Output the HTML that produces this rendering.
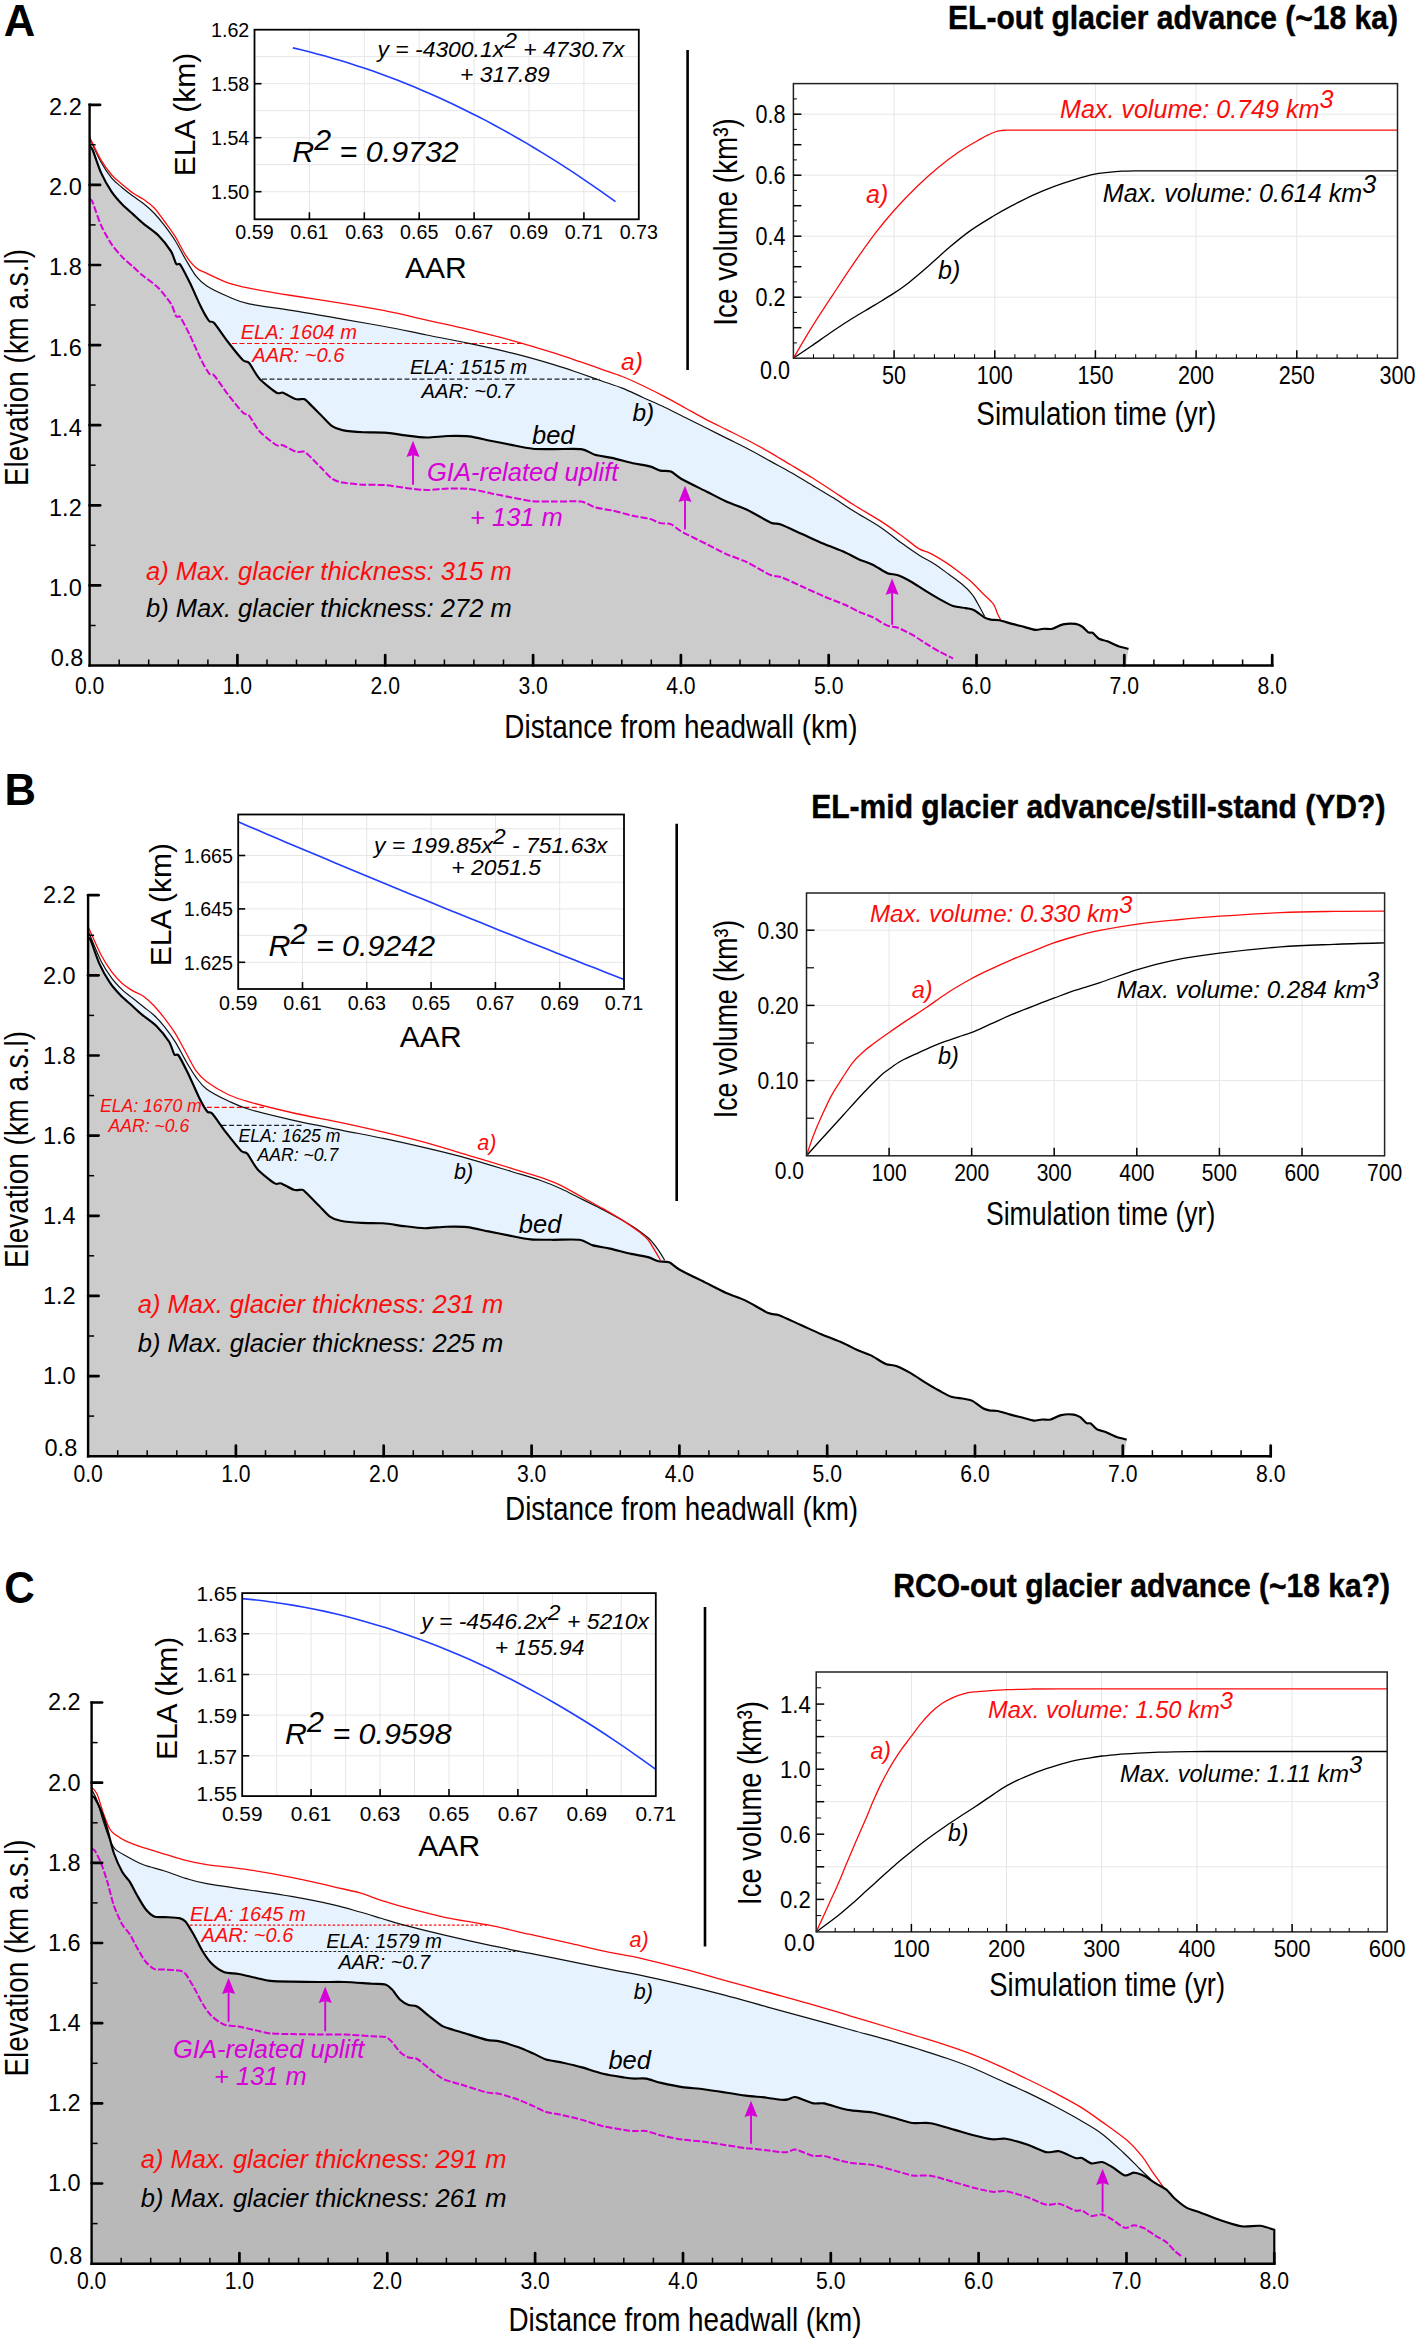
<!DOCTYPE html>
<html lang="en"><head><meta charset="utf-8"><title>Glacier advance simulations</title>
<style>html,body{margin:0;padding:0;background:#fff}svg{display:block}text{font-family:"Liberation Sans", sans-serif}</style>
</head><body>
<svg width="1419" height="2341" viewBox="0 0 1419 2341">
<rect width="1419" height="2341" fill="#fff"/>
<path d="M89.5,138 C91.4,142.1 97.4,155.6 101.1,162.3 C104.8,169 108.2,173.9 111.7,178.1 C115.2,182.3 118.8,184.7 122.3,187.7 C125.8,190.7 129.4,193.5 132.9,196.1 C136.4,198.7 139.9,200.7 143.4,203.5 C146.9,206.3 150.5,209.3 154,213 C157.5,216.7 161.1,221.1 164.6,225.7 C168.1,230.3 171.6,234.9 175.1,240.5 C178.6,246.1 182.2,253.5 185.7,259.5 C189.2,265.5 192.8,272 196.3,276.4 C199.8,280.8 201.5,282.6 206.8,286 C212.1,289.4 220.9,293.5 228,296.5 C235.1,299.5 238.5,301.6 249.1,303.9 C259.7,306.2 275.9,307.8 291.4,310.3 C306.9,312.8 326.8,316.4 342.3,319.1 C357.8,321.8 370.5,323.9 384.6,326.5 C398.7,329.1 412.7,332.2 426.8,335 C440.9,337.8 455,340.4 469.1,343.4 C483.2,346.4 497.3,349.4 511.4,352.9 C525.5,356.4 542.3,361.2 553.7,364.6 C565.1,368 572.1,370.6 580,373.3 C587.9,376 594.1,378.2 601.1,380.7 C608.1,383.2 615.2,385.3 622.3,388.1 C629.3,390.9 636.3,394.5 643.4,397.7 C650.5,400.9 657.5,403.9 664.6,407.2 C671.7,410.5 678.7,414.2 685.7,417.7 C692.7,421.2 699.8,424.8 706.8,428.3 C713.8,431.8 721,435.4 728,438.9 C735,442.4 742.1,445.8 749.1,449.5 C756.1,453.2 763.2,457.2 770.3,461.1 C777.3,465 784.3,468.6 791.4,472.7 C798.5,476.8 805.5,481.2 812.6,485.4 C819.7,489.6 826.7,493.7 833.7,498.1 C840.7,502.5 846.9,506.9 854.8,511.8 C862.7,516.7 873.2,522.4 881.1,527.7 C889,533 895.9,539 902.3,543.6 C908.6,548.2 913.9,551.9 919.2,555.2 C924.5,558.6 929.1,560.5 934,563.7 C938.9,566.9 944.2,570.9 948.8,574.2 C953.4,577.6 957.6,580.4 961.5,583.8 C965.4,587.1 969.5,591.1 972.1,594.3 C974.7,597.5 975.2,599.1 977.3,602.8 C979.4,606.5 983.5,614.2 984.7,616.5 L984.7,617.6 L974.2,610.2 L965.7,608.1 L953,606 L940.3,599.6 L927.7,592.2 L912.9,582.7 L898,575.3 L887.5,573.2 L872.7,564.7 L859.1,559.4 L844.3,552 L823.1,543.5 L802,534 L780.8,524.5 L770.3,522.4 L747,509.7 L728,502.3 L706.8,491.7 L681.5,479 L670.9,471.6 L660.3,470.6 L649.8,466.4 L632.9,463.2 L611.7,457.9 L594.8,454.7 L581.2,449.1 L553.7,449.1 L532.6,448.7 L511.4,444.9 L490.3,440.7 L469.1,436.4 L448,436 L426.8,437.5 L405.7,435.4 L384.6,432.6 L363.4,432.2 L342.3,430.1 L331.7,425.9 L321.1,415.3 L308.5,402.6 L304.1,399.1 L295.6,399.1 L283,392.7 L276.6,392.7 L259.7,379 L249.1,363.1 L242.8,360 L228,342 L214.2,323 L209,320.8 L200.5,306 L189.9,282.8 L180.4,264.8 L176.2,263.8 L170.9,251.1 L158.2,235.2 L143.4,223.6 L132.9,214.1 L122.3,204.6 L111.7,191.9 L101.1,172.9 L92.7,150 L89.5,146.2 Z" fill="#e6f2fd" stroke="none"/>
<path d="M89.5,146.2 L92.7,150 L101.1,172.9 L111.7,191.9 L122.3,204.6 L132.9,214.1 L143.4,223.6 L158.2,235.2 L170.9,251.1 L176.2,263.8 L180.4,264.8 L189.9,282.8 L200.5,306 L209,320.8 L214.2,323 L228,342 L242.8,360 L249.1,363.1 L259.7,379 L276.6,392.7 L283,392.7 L295.6,399.1 L304.1,399.1 L308.5,402.6 L321.1,415.3 L331.7,425.9 L342.3,430.1 L363.4,432.2 L384.6,432.6 L405.7,435.4 L426.8,437.5 L448,436 L469.1,436.4 L490.3,440.7 L511.4,444.9 L532.6,448.7 L553.7,449.1 L581.2,449.1 L594.8,454.7 L611.7,457.9 L632.9,463.2 L649.8,466.4 L660.3,470.6 L670.9,471.6 L681.5,479 L706.8,491.7 L728,502.3 L747,509.7 L770.3,522.4 L780.8,524.5 L802,534 L823.1,543.5 L844.3,552 L859.1,559.4 L872.7,564.7 L887.5,573.2 L898,575.3 L912.9,582.7 L927.7,592.2 L940.3,599.6 L953,606 L965.7,608.1 L974.2,610.2 L984.7,617.6 L991.1,619.7 L999.5,620.3 L1012.2,623.9 L1024.9,627.1 L1035.5,629.9 L1043.9,628.8 L1052.4,628.8 L1063,624.4 L1075.6,623.9 L1082,626.5 L1088.3,632.4 L1092.6,632.8 L1098.9,638.7 L1107.4,641.3 L1117.9,646.1 L1128.5,648.9 L1126,665.5 L89.6,665.5 Z" fill="#cccccc" stroke="none"/>
<path d="M89.5,198.7 C89.9,199.2 91.2,198.9 92.7,202.5 C94.2,206.1 98.6,219.8 101.1,225.4 C103.6,231 108.9,240.2 111.7,244.4 C114.5,248.6 119.5,254.1 122.3,257.1 C125.1,260.1 130.1,264.1 132.9,266.6 C135.7,269.1 140,273.3 143.4,276.1 C146.8,278.9 154.5,284 158.2,287.7 C161.9,291.4 168.5,299.8 170.9,303.6 C173.3,307.4 174.9,314.5 176.2,316.3 C177.5,318.1 178.6,314.8 180.4,317.3 C182.2,319.8 187.2,329.8 189.9,335.3 C192.6,340.8 198,353.4 200.5,358.5 C203,363.6 207.2,371 209,373.3 C210.8,375.6 211.7,372.7 214.2,375.5 C216.7,378.3 224.2,389.6 228,394.5 C231.8,399.4 240,409.7 242.8,412.5 C245.6,415.3 246.8,413.1 249.1,415.6 C251.4,418.1 256,427.6 259.7,431.5 C263.4,435.4 273.5,443.4 276.6,445.2 C279.7,447 280.5,444.3 283,445.2 C285.5,446.1 292.8,450.7 295.6,451.6 C298.4,452.5 302.4,451.1 304.1,451.6 C305.8,452.1 306.2,452.9 308.5,455.1 C310.8,457.3 318,464.7 321.1,467.8 C324.2,470.9 328.9,476.4 331.7,478.4 C334.5,480.4 338.1,481.8 342.3,482.6 C346.5,483.4 357.8,484.4 363.4,484.7 C369,485 379,484.7 384.6,485.1 C390.2,485.5 400.1,487.2 405.7,487.9 C411.3,488.6 421.2,489.9 426.8,490 C432.4,490.1 442.4,488.6 448,488.5 C453.6,488.4 463.5,488.3 469.1,488.9 C474.7,489.5 484.7,492.1 490.3,493.2 C495.9,494.3 505.8,496.3 511.4,497.4 C517,498.5 527,500.6 532.6,501.2 C538.2,501.8 547.2,501.5 553.7,501.6 C560.2,501.7 575.7,500.9 581.2,501.6 C586.7,502.3 590.7,506 594.8,507.2 C598.9,508.4 606.6,509.3 611.7,510.4 C616.8,511.5 627.8,514.6 632.9,515.7 C638,516.8 646.1,517.9 649.8,518.9 C653.5,519.9 657.5,522.4 660.3,523.1 C663.1,523.8 668.1,523 670.9,524.1 C673.7,525.2 676.7,528.8 681.5,531.5 C686.3,534.2 700.6,541.1 706.8,544.2 C713,547.3 722.6,552.4 728,554.8 C733.4,557.2 741.4,559.5 747,562.2 C752.6,564.9 765.8,572.9 770.3,574.9 C774.8,576.9 776.6,575.5 780.8,577 C785,578.5 796.4,584 802,586.5 C807.6,589 817.5,593.6 823.1,596 C828.7,598.4 839.5,602.4 844.3,604.5 C849.1,606.6 855.3,610.2 859.1,611.9 C862.9,613.6 868.9,615.4 872.7,617.2 C876.5,619 884.1,624.3 887.5,625.7 C890.9,627.1 894.6,626.5 898,627.8 C901.4,629.1 908.9,632.9 912.9,635.2 C916.9,637.5 924,642.4 927.7,644.7 C931.4,647 936.9,650.3 940.3,652.1 C943.7,653.9 951.3,657.6 953,658.5" fill="none" stroke="#d800d8" stroke-width="2.0" stroke-dasharray="7,2.2"/>
<line x1="232" y1="343.5" x2="522" y2="343.5" stroke="#fb0d0d" stroke-width="1.2" stroke-dasharray="5,2.5"/>
<line x1="262" y1="379.2" x2="600" y2="379.2" stroke="#222" stroke-width="1.2" stroke-dasharray="5,2.5"/>
<path d="M89.5,138 C91.4,142.1 97.4,155.6 101.1,162.3 C104.8,169 108.2,173.9 111.7,178.1 C115.2,182.3 118.8,184.7 122.3,187.7 C125.8,190.7 129.4,193.5 132.9,196.1 C136.4,198.7 139.9,200.7 143.4,203.5 C146.9,206.3 150.5,209.3 154,213 C157.5,216.7 161.1,221.1 164.6,225.7 C168.1,230.3 171.6,234.9 175.1,240.5 C178.6,246.1 182.2,253.5 185.7,259.5 C189.2,265.5 192.8,272 196.3,276.4 C199.8,280.8 201.5,282.6 206.8,286 C212.1,289.4 220.9,293.5 228,296.5 C235.1,299.5 238.5,301.6 249.1,303.9 C259.7,306.2 275.9,307.8 291.4,310.3 C306.9,312.8 326.8,316.4 342.3,319.1 C357.8,321.8 370.5,323.9 384.6,326.5 C398.7,329.1 412.7,332.2 426.8,335 C440.9,337.8 455,340.4 469.1,343.4 C483.2,346.4 497.3,349.4 511.4,352.9 C525.5,356.4 542.3,361.2 553.7,364.6 C565.1,368 572.1,370.6 580,373.3 C587.9,376 594.1,378.2 601.1,380.7 C608.1,383.2 615.2,385.3 622.3,388.1 C629.3,390.9 636.3,394.5 643.4,397.7 C650.5,400.9 657.5,403.9 664.6,407.2 C671.7,410.5 678.7,414.2 685.7,417.7 C692.7,421.2 699.8,424.8 706.8,428.3 C713.8,431.8 721,435.4 728,438.9 C735,442.4 742.1,445.8 749.1,449.5 C756.1,453.2 763.2,457.2 770.3,461.1 C777.3,465 784.3,468.6 791.4,472.7 C798.5,476.8 805.5,481.2 812.6,485.4 C819.7,489.6 826.7,493.7 833.7,498.1 C840.7,502.5 846.9,506.9 854.8,511.8 C862.7,516.7 873.2,522.4 881.1,527.7 C889,533 895.9,539 902.3,543.6 C908.6,548.2 913.9,551.9 919.2,555.2 C924.5,558.6 929.1,560.5 934,563.7 C938.9,566.9 944.2,570.9 948.8,574.2 C953.4,577.6 957.6,580.4 961.5,583.8 C965.4,587.1 969.5,591.1 972.1,594.3 C974.7,597.5 975.2,599.1 977.3,602.8 C979.4,606.5 983.5,614.2 984.7,616.5" fill="none" stroke="#111" stroke-width="1.2"/>
<path d="M89.5,137 C91.4,140.9 97.4,153.9 101.1,160.2 C104.8,166.5 108.2,170.9 111.7,175 C115.2,179.1 118.8,181.5 122.3,184.5 C125.8,187.5 129.4,190.5 132.9,193 C136.4,195.5 139.9,196.9 143.4,199.3 C146.9,201.8 150.5,204 154,207.7 C157.5,211.4 161.1,216.7 164.6,221.5 C168.1,226.3 171.6,230.7 175.1,236.3 C178.6,241.9 182.2,250 185.7,255.3 C189.2,260.6 192.8,265 196.3,268 C199.8,271 201.5,270.8 206.8,273.3 C212.1,275.8 220.9,280.3 228,282.8 C235.1,285.3 238.5,286 249.1,288.1 C259.7,290.2 275.9,293 291.4,295.5 C306.9,298 326.8,300.8 342.3,303.3 C357.8,305.8 370.5,307.9 384.6,310.7 C398.7,313.5 412.7,317 426.8,320.2 C440.9,323.4 455,326.3 469.1,329.7 C483.2,333.1 497.3,336.4 511.4,340.3 C525.5,344.2 542.3,349.3 553.7,352.9 C565.1,356.5 572.1,359 580,361.7 C587.9,364.4 594.1,366.6 601.1,369.1 C608.1,371.6 615.2,373.7 622.3,376.5 C629.3,379.3 636.3,382.6 643.4,386 C650.5,389.4 657.5,392.9 664.6,396.6 C671.7,400.3 678.7,404.3 685.7,408.2 C692.7,412.1 699.8,416.2 706.8,419.9 C713.8,423.6 721,426.9 728,430.4 C735,433.9 742.1,437.3 749.1,441 C756.1,444.7 763.2,448.6 770.3,452.6 C777.3,456.7 784.3,461.1 791.4,465.3 C798.5,469.5 805.5,473.6 812.6,478 C819.7,482.4 826.7,487.1 833.7,491.7 C840.7,496.3 846.9,500.6 854.8,505.5 C862.7,510.4 873.2,516.3 881.1,521.4 C889,526.5 895.9,531.6 902.3,536.2 C908.6,540.8 914.6,546.1 919.2,548.9 C923.8,551.7 925.6,551 929.8,553.1 C934,555.2 940.4,559 944.6,561.6 C948.8,564.2 950.9,565.8 955.1,569 C959.3,572.2 965.3,576.6 969.9,580.6 C974.5,584.6 978.7,589.4 982.6,593.3 C986.5,597.2 990.7,600.4 993.2,603.8 C995.7,607.1 996.2,610.8 997.4,613.4 C998.6,616 1000.1,618.7 1000.6,619.7" fill="none" stroke="#fb0d0d" stroke-width="1.3"/>
<path d="M89.5,146.2 C89.9,146.7 91.2,146.4 92.7,150 C94.2,153.6 98.6,167.3 101.1,172.9 C103.6,178.5 108.9,187.7 111.7,191.9 C114.5,196.1 119.5,201.6 122.3,204.6 C125.1,207.6 130.1,211.6 132.9,214.1 C135.7,216.6 140,220.8 143.4,223.6 C146.8,226.4 154.5,231.5 158.2,235.2 C161.9,238.9 168.5,247.3 170.9,251.1 C173.3,254.9 174.9,262 176.2,263.8 C177.5,265.6 178.6,262.3 180.4,264.8 C182.2,267.3 187.2,277.3 189.9,282.8 C192.6,288.3 198,300.9 200.5,306 C203,311.1 207.2,318.5 209,320.8 C210.8,323.1 211.7,320.2 214.2,323 C216.7,325.8 224.2,337.1 228,342 C231.8,346.9 240,357.2 242.8,360 C245.6,362.8 246.8,360.6 249.1,363.1 C251.4,365.6 256,375.1 259.7,379 C263.4,382.9 273.5,390.9 276.6,392.7 C279.7,394.5 280.5,391.8 283,392.7 C285.5,393.6 292.8,398.2 295.6,399.1 C298.4,400 302.4,398.6 304.1,399.1 C305.8,399.6 306.2,400.4 308.5,402.6 C310.8,404.8 318,412.2 321.1,415.3 C324.2,418.4 328.9,423.9 331.7,425.9 C334.5,427.9 338.1,429.3 342.3,430.1 C346.5,430.9 357.8,431.9 363.4,432.2 C369,432.5 379,432.2 384.6,432.6 C390.2,433 400.1,434.7 405.7,435.4 C411.3,436.1 421.2,437.4 426.8,437.5 C432.4,437.6 442.4,436.1 448,436 C453.6,435.9 463.5,435.8 469.1,436.4 C474.7,437 484.7,439.6 490.3,440.7 C495.9,441.8 505.8,443.8 511.4,444.9 C517,446 527,448.1 532.6,448.7 C538.2,449.3 547.2,449 553.7,449.1 C560.2,449.2 575.7,448.4 581.2,449.1 C586.7,449.8 590.7,453.5 594.8,454.7 C598.9,455.9 606.6,456.8 611.7,457.9 C616.8,459 627.8,462.1 632.9,463.2 C638,464.3 646.1,465.4 649.8,466.4 C653.5,467.4 657.5,469.9 660.3,470.6 C663.1,471.3 668.1,470.5 670.9,471.6 C673.7,472.7 676.7,476.3 681.5,479 C686.3,481.7 700.6,488.6 706.8,491.7 C713,494.8 722.6,499.9 728,502.3 C733.4,504.7 741.4,507 747,509.7 C752.6,512.4 765.8,520.4 770.3,522.4 C774.8,524.4 776.6,523 780.8,524.5 C785,526 796.4,531.5 802,534 C807.6,536.5 817.5,541.1 823.1,543.5 C828.7,545.9 839.5,549.9 844.3,552 C849.1,554.1 855.3,557.7 859.1,559.4 C862.9,561.1 868.9,562.9 872.7,564.7 C876.5,566.5 884.1,571.8 887.5,573.2 C890.9,574.6 894.6,574 898,575.3 C901.4,576.6 908.9,580.4 912.9,582.7 C916.9,585 924,589.9 927.7,592.2 C931.4,594.5 936.9,597.8 940.3,599.6 C943.7,601.4 949.6,604.9 953,606 C956.4,607.1 962.9,607.5 965.7,608.1 C968.5,608.7 971.7,608.9 974.2,610.2 C976.7,611.5 982.4,616.3 984.7,617.6 C987,618.9 989.1,619.3 991.1,619.7 C993.1,620.1 996.7,619.7 999.5,620.3 C1002.3,620.9 1008.8,623 1012.2,623.9 C1015.6,624.8 1021.8,626.3 1024.9,627.1 C1028,627.9 1033,629.7 1035.5,629.9 C1038,630.1 1041.6,628.9 1043.9,628.8 C1046.2,628.7 1049.9,629.4 1052.4,628.8 C1054.9,628.2 1059.9,625.1 1063,624.4 C1066.1,623.7 1073.1,623.6 1075.6,623.9 C1078.1,624.2 1080.3,625.4 1082,626.5 C1083.7,627.6 1086.9,631.6 1088.3,632.4 C1089.7,633.2 1091.2,632 1092.6,632.8 C1094,633.6 1096.9,637.6 1098.9,638.7 C1100.9,639.8 1104.9,640.3 1107.4,641.3 C1109.9,642.3 1115.1,645.1 1117.9,646.1 C1120.7,647.1 1127.1,648.5 1128.5,648.9" fill="none" stroke="#000" stroke-width="2.15" stroke-linejoin="round"/>
<line x1="89.6" y1="103.5" x2="89.6" y2="666.7" stroke="#000" stroke-width="2.4"/>
<line x1="88.4" y1="665.5" x2="1273.5" y2="665.5" stroke="#000" stroke-width="2.4"/>
<line x1="89.6" y1="625.5" x2="95.6" y2="625.5" stroke="#000" stroke-width="1.5"/>
<line x1="89.6" y1="585.4" x2="100.1" y2="585.4" stroke="#000" stroke-width="2.7" stroke-linecap="round"/>
<line x1="89.6" y1="545.3" x2="95.6" y2="545.3" stroke="#000" stroke-width="1.5"/>
<line x1="89.6" y1="505.3" x2="100.1" y2="505.3" stroke="#000" stroke-width="2.7" stroke-linecap="round"/>
<line x1="89.6" y1="465.2" x2="95.6" y2="465.2" stroke="#000" stroke-width="1.5"/>
<line x1="89.6" y1="425.2" x2="100.1" y2="425.2" stroke="#000" stroke-width="2.7" stroke-linecap="round"/>
<line x1="89.6" y1="385.1" x2="95.6" y2="385.1" stroke="#000" stroke-width="1.5"/>
<line x1="89.6" y1="345.1" x2="100.1" y2="345.1" stroke="#000" stroke-width="2.7" stroke-linecap="round"/>
<line x1="89.6" y1="305" x2="95.6" y2="305" stroke="#000" stroke-width="1.5"/>
<line x1="89.6" y1="265" x2="100.1" y2="265" stroke="#000" stroke-width="2.7" stroke-linecap="round"/>
<line x1="89.6" y1="224.9" x2="95.6" y2="224.9" stroke="#000" stroke-width="1.5"/>
<line x1="89.6" y1="184.9" x2="100.1" y2="184.9" stroke="#000" stroke-width="2.7" stroke-linecap="round"/>
<line x1="89.6" y1="144.8" x2="95.6" y2="144.8" stroke="#000" stroke-width="1.5"/>
<line x1="89.6" y1="104.8" x2="100.1" y2="104.8" stroke="#000" stroke-width="2.7" stroke-linecap="round"/>
<line x1="119.2" y1="665.5" x2="119.2" y2="659.5" stroke="#000" stroke-width="1.5"/>
<line x1="148.7" y1="665.5" x2="148.7" y2="659.5" stroke="#000" stroke-width="1.5"/>
<line x1="178.3" y1="665.5" x2="178.3" y2="659.5" stroke="#000" stroke-width="1.5"/>
<line x1="207.9" y1="665.5" x2="207.9" y2="659.5" stroke="#000" stroke-width="1.5"/>
<line x1="237.4" y1="665.5" x2="237.4" y2="655" stroke="#000" stroke-width="2.7" stroke-linecap="round"/>
<line x1="267" y1="665.5" x2="267" y2="659.5" stroke="#000" stroke-width="1.5"/>
<line x1="296.5" y1="665.5" x2="296.5" y2="659.5" stroke="#000" stroke-width="1.5"/>
<line x1="326.1" y1="665.5" x2="326.1" y2="659.5" stroke="#000" stroke-width="1.5"/>
<line x1="355.7" y1="665.5" x2="355.7" y2="659.5" stroke="#000" stroke-width="1.5"/>
<line x1="385.2" y1="665.5" x2="385.2" y2="655" stroke="#000" stroke-width="2.7" stroke-linecap="round"/>
<line x1="414.8" y1="665.5" x2="414.8" y2="659.5" stroke="#000" stroke-width="1.5"/>
<line x1="444.4" y1="665.5" x2="444.4" y2="659.5" stroke="#000" stroke-width="1.5"/>
<line x1="473.9" y1="665.5" x2="473.9" y2="659.5" stroke="#000" stroke-width="1.5"/>
<line x1="503.5" y1="665.5" x2="503.5" y2="659.5" stroke="#000" stroke-width="1.5"/>
<line x1="533.1" y1="665.5" x2="533.1" y2="655" stroke="#000" stroke-width="2.7" stroke-linecap="round"/>
<line x1="562.6" y1="665.5" x2="562.6" y2="659.5" stroke="#000" stroke-width="1.5"/>
<line x1="592.2" y1="665.5" x2="592.2" y2="659.5" stroke="#000" stroke-width="1.5"/>
<line x1="621.8" y1="665.5" x2="621.8" y2="659.5" stroke="#000" stroke-width="1.5"/>
<line x1="651.3" y1="665.5" x2="651.3" y2="659.5" stroke="#000" stroke-width="1.5"/>
<line x1="680.9" y1="665.5" x2="680.9" y2="655" stroke="#000" stroke-width="2.7" stroke-linecap="round"/>
<line x1="710.4" y1="665.5" x2="710.4" y2="659.5" stroke="#000" stroke-width="1.5"/>
<line x1="740" y1="665.5" x2="740" y2="659.5" stroke="#000" stroke-width="1.5"/>
<line x1="769.6" y1="665.5" x2="769.6" y2="659.5" stroke="#000" stroke-width="1.5"/>
<line x1="799.1" y1="665.5" x2="799.1" y2="659.5" stroke="#000" stroke-width="1.5"/>
<line x1="828.7" y1="665.5" x2="828.7" y2="655" stroke="#000" stroke-width="2.7" stroke-linecap="round"/>
<line x1="858.3" y1="665.5" x2="858.3" y2="659.5" stroke="#000" stroke-width="1.5"/>
<line x1="887.8" y1="665.5" x2="887.8" y2="659.5" stroke="#000" stroke-width="1.5"/>
<line x1="917.4" y1="665.5" x2="917.4" y2="659.5" stroke="#000" stroke-width="1.5"/>
<line x1="947" y1="665.5" x2="947" y2="659.5" stroke="#000" stroke-width="1.5"/>
<line x1="976.5" y1="665.5" x2="976.5" y2="655" stroke="#000" stroke-width="2.7" stroke-linecap="round"/>
<line x1="1006.1" y1="665.5" x2="1006.1" y2="659.5" stroke="#000" stroke-width="1.5"/>
<line x1="1035.6" y1="665.5" x2="1035.6" y2="659.5" stroke="#000" stroke-width="1.5"/>
<line x1="1065.2" y1="665.5" x2="1065.2" y2="659.5" stroke="#000" stroke-width="1.5"/>
<line x1="1094.8" y1="665.5" x2="1094.8" y2="659.5" stroke="#000" stroke-width="1.5"/>
<line x1="1124.3" y1="665.5" x2="1124.3" y2="655" stroke="#000" stroke-width="2.7" stroke-linecap="round"/>
<line x1="1153.9" y1="665.5" x2="1153.9" y2="659.5" stroke="#000" stroke-width="1.5"/>
<line x1="1183.5" y1="665.5" x2="1183.5" y2="659.5" stroke="#000" stroke-width="1.5"/>
<line x1="1213" y1="665.5" x2="1213" y2="659.5" stroke="#000" stroke-width="1.5"/>
<line x1="1242.6" y1="665.5" x2="1242.6" y2="659.5" stroke="#000" stroke-width="1.5"/>
<line x1="1272.2" y1="665.5" x2="1272.2" y2="655" stroke="#000" stroke-width="2.7" stroke-linecap="round"/>
<text transform="translate(83.3,665.7)" text-anchor="end" fill="#000" style="font-size:23.5px;">0.8</text>
<text transform="translate(81.7,595.9)" text-anchor="end" fill="#000" style="font-size:23.5px;">1.0</text>
<text transform="translate(81.7,515.8)" text-anchor="end" fill="#000" style="font-size:23.5px;">1.2</text>
<text transform="translate(81.7,435.6)" text-anchor="end" fill="#000" style="font-size:23.5px;">1.4</text>
<text transform="translate(81.7,355.5)" text-anchor="end" fill="#000" style="font-size:23.5px;">1.6</text>
<text transform="translate(81.7,275.4)" text-anchor="end" fill="#000" style="font-size:23.5px;">1.8</text>
<text transform="translate(81.7,195.3)" text-anchor="end" fill="#000" style="font-size:23.5px;">2.0</text>
<text transform="translate(81.7,115.2)" text-anchor="end" fill="#000" style="font-size:23.5px;">2.2</text>
<text transform="translate(89.6,694.1) scale(0.900,1)" text-anchor="middle" fill="#000" style="font-size:23.5px;">0.0</text>
<text transform="translate(237.4,694.1) scale(0.900,1)" text-anchor="middle" fill="#000" style="font-size:23.5px;">1.0</text>
<text transform="translate(385.2,694.1) scale(0.900,1)" text-anchor="middle" fill="#000" style="font-size:23.5px;">2.0</text>
<text transform="translate(533.1,694.1) scale(0.900,1)" text-anchor="middle" fill="#000" style="font-size:23.5px;">3.0</text>
<text transform="translate(680.9,694.1) scale(0.900,1)" text-anchor="middle" fill="#000" style="font-size:23.5px;">4.0</text>
<text transform="translate(828.7,694.1) scale(0.900,1)" text-anchor="middle" fill="#000" style="font-size:23.5px;">5.0</text>
<text transform="translate(976.5,694.1) scale(0.900,1)" text-anchor="middle" fill="#000" style="font-size:23.5px;">6.0</text>
<text transform="translate(1124.3,694.1) scale(0.900,1)" text-anchor="middle" fill="#000" style="font-size:23.5px;">7.0</text>
<text transform="translate(1272.2,694.1) scale(0.900,1)" text-anchor="middle" fill="#000" style="font-size:23.5px;">8.0</text>
<text transform="translate(680.9,738.1) scale(0.820,1)" text-anchor="middle" fill="#000" style="font-size:34px;">Distance from headwall (km)</text>
<text transform="translate(27.8,367.5) rotate(-90) scale(0.820,1)" text-anchor="middle" fill="#000" style="font-size:34px;">Elevation (km a.s.l)</text>
<text transform="translate(240.7,338.6)" text-anchor="start" fill="#fb0d0d" style="font-size:20.1px;font-style:italic;">ELA: 1604 m</text>
<text transform="translate(252.3,362)" text-anchor="start" fill="#fb0d0d" style="font-size:20.1px;font-style:italic;">AAR: ~0.6</text>
<text transform="translate(410,374)" text-anchor="start" fill="#000" style="font-size:20.3px;font-style:italic;">ELA: 1515 m</text>
<text transform="translate(421.6,398.4)" text-anchor="start" fill="#000" style="font-size:20.2px;font-style:italic;">AAR: ~0.7</text>
<text transform="translate(621,370)" text-anchor="start" fill="#fb0d0d" style="font-size:24.5px;font-style:italic;">a)</text>
<text transform="translate(632.4,421)" text-anchor="start" fill="#000" style="font-size:24.5px;font-style:italic;">b)</text>
<text transform="translate(532,443.5)" text-anchor="start" fill="#000" style="font-size:25.5px;font-style:italic;">bed</text>
<text transform="translate(427,480.8)" text-anchor="start" fill="#d800d8" style="font-size:25.5px;font-style:italic;">GIA-related uplift</text>
<text transform="translate(470,526.3)" text-anchor="start" fill="#d800d8" style="font-size:25.5px;font-style:italic;">+ 131 m</text>
<text transform="translate(146,580)" text-anchor="start" fill="#fb0d0d" style="font-size:25.5px;font-style:italic;">a) Max. glacier thickness: 315 m</text>
<text transform="translate(146,617)" text-anchor="start" fill="#000" style="font-size:25.5px;font-style:italic;">b) Max. glacier thickness: 272 m</text>
<line x1="413" y1="484" x2="413" y2="453.7" stroke="#d800d8" stroke-width="1.9" stroke-linecap="round"/>
<path d="M413,440.7 L406.5,457 L413,455.1 L419.5,457 Z" fill="#d800d8"/>
<line x1="685" y1="528.7" x2="685" y2="498.8" stroke="#d800d8" stroke-width="1.9" stroke-linecap="round"/>
<path d="M685,485.8 L678.5,502.1 L685,500.2 L691.5,502.1 Z" fill="#d800d8"/>
<line x1="892.1" y1="624" x2="892.1" y2="591.5" stroke="#d800d8" stroke-width="1.9" stroke-linecap="round"/>
<path d="M892.1,578.5 L885.6,594.8 L892.1,592.9 L898.6,594.8 Z" fill="#d800d8"/>
<text transform="translate(3.8,36) scale(0.990,1)" text-anchor="start" fill="#000" style="font-size:44px;font-weight:bold;">A</text>
<text transform="translate(1398,28.5) scale(0.889,1)" text-anchor="end" fill="#000" style="font-size:33.8px;font-weight:bold;" stroke="#000" stroke-width="0.45">EL-out glacier advance (~18 ka)</text>
<line x1="687.6" y1="50" x2="687.6" y2="370" stroke="#000" stroke-width="2.6"/>
<rect x="254.5" y="29.7" width="384.3" height="189.6" fill="#fff"/>
<line x1="309.4" y1="29.7" x2="309.4" y2="219.3" stroke="#e6e6e6" stroke-width="1"/>
<line x1="364.3" y1="29.7" x2="364.3" y2="219.3" stroke="#e6e6e6" stroke-width="1"/>
<line x1="419.2" y1="29.7" x2="419.2" y2="219.3" stroke="#e6e6e6" stroke-width="1"/>
<line x1="474.1" y1="29.7" x2="474.1" y2="219.3" stroke="#e6e6e6" stroke-width="1"/>
<line x1="529" y1="29.7" x2="529" y2="219.3" stroke="#e6e6e6" stroke-width="1"/>
<line x1="583.9" y1="29.7" x2="583.9" y2="219.3" stroke="#e6e6e6" stroke-width="1"/>
<line x1="254.5" y1="56.7" x2="638.8" y2="56.7" stroke="#e6e6e6" stroke-width="1"/>
<line x1="254.5" y1="83.7" x2="638.8" y2="83.7" stroke="#e6e6e6" stroke-width="1"/>
<line x1="254.5" y1="110.7" x2="638.8" y2="110.7" stroke="#e6e6e6" stroke-width="1"/>
<line x1="254.5" y1="137.7" x2="638.8" y2="137.7" stroke="#e6e6e6" stroke-width="1"/>
<line x1="254.5" y1="164.7" x2="638.8" y2="164.7" stroke="#e6e6e6" stroke-width="1"/>
<line x1="254.5" y1="191.7" x2="638.8" y2="191.7" stroke="#e6e6e6" stroke-width="1"/>
<path d="M292.9,47.9 L301,49.8 L309.1,51.8 L317.1,53.9 L325.2,56.1 L333.2,58.4 L341.3,60.8 L349.4,63.3 L357.4,65.9 L365.5,68.6 L373.6,71.3 L381.6,74.2 L389.7,77.2 L397.8,80.3 L405.8,83.5 L413.9,86.8 L421.9,90.2 L430,93.7 L438.1,97.3 L446.1,101 L454.2,104.8 L462.3,108.7 L470.3,112.7 L478.4,116.7 L486.5,120.9 L494.5,125.2 L502.6,129.6 L510.6,134.1 L518.7,138.7 L526.8,143.4 L534.8,148.2 L542.9,153.1 L551,158.1 L559,163.2 L567.1,168.4 L575.2,173.7 L583.2,179.1 L591.3,184.6 L599.3,190.2 L607.4,195.9 L615.5,201.7" fill="none" stroke="#1f3cff" stroke-width="1.6"/>
<rect x="254.5" y="29.7" width="384.3" height="189.6" fill="none" stroke="#000" stroke-width="1.8"/>
<line x1="309.4" y1="219.3" x2="309.4" y2="212.3" stroke="#000" stroke-width="1.6"/>
<line x1="364.3" y1="219.3" x2="364.3" y2="212.3" stroke="#000" stroke-width="1.6"/>
<line x1="419.2" y1="219.3" x2="419.2" y2="212.3" stroke="#000" stroke-width="1.6"/>
<line x1="474.1" y1="219.3" x2="474.1" y2="212.3" stroke="#000" stroke-width="1.6"/>
<line x1="529" y1="219.3" x2="529" y2="212.3" stroke="#000" stroke-width="1.6"/>
<line x1="583.9" y1="219.3" x2="583.9" y2="212.3" stroke="#000" stroke-width="1.6"/>
<line x1="254.5" y1="83.7" x2="261.5" y2="83.7" stroke="#000" stroke-width="1.6"/>
<line x1="254.5" y1="137.7" x2="261.5" y2="137.7" stroke="#000" stroke-width="1.6"/>
<line x1="254.5" y1="191.7" x2="261.5" y2="191.7" stroke="#000" stroke-width="1.6"/>
<text transform="translate(254.5,239.4) scale(1.020,1)" text-anchor="middle" fill="#000" style="font-size:19.3px;">0.59</text>
<text transform="translate(309.4,239.4) scale(1.020,1)" text-anchor="middle" fill="#000" style="font-size:19.3px;">0.61</text>
<text transform="translate(364.3,239.4) scale(1.020,1)" text-anchor="middle" fill="#000" style="font-size:19.3px;">0.63</text>
<text transform="translate(419.2,239.4) scale(1.020,1)" text-anchor="middle" fill="#000" style="font-size:19.3px;">0.65</text>
<text transform="translate(474.1,239.4) scale(1.020,1)" text-anchor="middle" fill="#000" style="font-size:19.3px;">0.67</text>
<text transform="translate(529,239.4) scale(1.020,1)" text-anchor="middle" fill="#000" style="font-size:19.3px;">0.69</text>
<text transform="translate(583.9,239.4) scale(1.020,1)" text-anchor="middle" fill="#000" style="font-size:19.3px;">0.71</text>
<text transform="translate(638.8,239.4) scale(1.020,1)" text-anchor="middle" fill="#000" style="font-size:19.3px;">0.73</text>
<text transform="translate(249.3,37) scale(1.020,1)" text-anchor="end" fill="#000" style="font-size:19.3px;">1.62</text>
<text transform="translate(249.3,91) scale(1.020,1)" text-anchor="end" fill="#000" style="font-size:19.3px;">1.58</text>
<text transform="translate(249.3,145) scale(1.020,1)" text-anchor="end" fill="#000" style="font-size:19.3px;">1.54</text>
<text transform="translate(249.3,199) scale(1.020,1)" text-anchor="end" fill="#000" style="font-size:19.3px;">1.50</text>
<text transform="translate(195,114.5) rotate(-90)" text-anchor="middle" fill="#000" style="font-size:30px;">ELA (km)</text>
<text transform="translate(435.8,278)" text-anchor="middle" fill="#000" style="font-size:30px;">AAR</text>
<text transform="translate(292.3,162)" text-anchor="start" fill="#000" style="font-size:30.4px;font-style:italic;">R<tspan dy="-0.39em">2</tspan><tspan dy="0.39em"> = 0.9732</tspan></text>
<text transform="translate(377.5,56.5)" text-anchor="start" fill="#000" style="font-size:22.9px;font-style:italic;">y = -4300.1x<tspan dy="-0.39em">2</tspan><tspan dy="0.39em"> + 4730.7x</tspan></text>
<text transform="translate(460,82.3)" text-anchor="start" fill="#000" style="font-size:22.9px;font-style:italic;">+ 317.89</text>
<line x1="894.1" y1="83.6" x2="894.1" y2="358.2" stroke="#e6e6e6" stroke-width="1"/>
<line x1="994.8" y1="83.6" x2="994.8" y2="358.2" stroke="#e6e6e6" stroke-width="1"/>
<line x1="1095.4" y1="83.6" x2="1095.4" y2="358.2" stroke="#e6e6e6" stroke-width="1"/>
<line x1="1196.1" y1="83.6" x2="1196.1" y2="358.2" stroke="#e6e6e6" stroke-width="1"/>
<line x1="1296.8" y1="83.6" x2="1296.8" y2="358.2" stroke="#e6e6e6" stroke-width="1"/>
<line x1="793.4" y1="297.2" x2="1397.5" y2="297.2" stroke="#e6e6e6" stroke-width="1"/>
<line x1="793.4" y1="236.2" x2="1397.5" y2="236.2" stroke="#e6e6e6" stroke-width="1"/>
<line x1="793.4" y1="175.2" x2="1397.5" y2="175.2" stroke="#e6e6e6" stroke-width="1"/>
<line x1="793.4" y1="114.2" x2="1397.5" y2="114.2" stroke="#e6e6e6" stroke-width="1"/>
<path d="M793.4,358.2 C796.4,356.2 804.6,350.8 811.1,346.3 C817.6,341.9 825.2,336.2 832.3,331.5 C839.3,326.8 846.3,322.2 853.4,317.8 C860.5,313.4 867.9,309.2 874.6,305.1 C881.3,301 888,297.1 893.6,293.4 C899.2,289.7 902.8,287.3 908.4,282.9 C914,278.5 920.7,272.8 927.4,267 C934.1,261.2 941.5,254 948.6,248 C955.7,242 962.3,236.4 969.7,231.1 C977.1,225.8 986,220.5 993,216.3 C1000,212.1 1005.3,209.2 1012,205.7 C1018.7,202.2 1026,198.3 1033.1,195.1 C1040.1,191.9 1047.2,188.9 1054.3,186.3 C1061.3,183.7 1068.9,181.3 1075.4,179.3 C1081.9,177.3 1088,175.5 1093.4,174.3 C1098.8,173.1 1103.2,172.8 1108,172.3 C1112.8,171.8 1116.7,171.4 1122,171.2 C1127.3,170.9 1137,170.9 1140,170.8 L1397.5,170.8" fill="none" stroke="#000" stroke-width="1.3"/>
<path d="M793.4,358.2 C796.4,353.2 804.6,338.7 811.1,328.3 C817.6,317.9 825.2,306.4 832.3,295.6 C839.3,284.9 846.3,274 853.4,263.8 C860.5,253.6 867.9,243 874.6,234.2 C881.3,225.4 886.6,218.9 893.6,211 C900.6,203.1 909.4,193.9 916.8,186.7 C924.2,179.5 931,173.5 938,167.7 C945,161.9 952.1,156.6 959.1,151.8 C966.1,147 975.3,142 980.3,139.1 C985.3,136.2 986.5,135.7 989,134.5 C991.5,133.3 993.1,132.7 995,132 C996.9,131.3 998.7,130.9 1000.5,130.6 C1002.3,130.3 1004.1,130.3 1006,130.2 C1007.9,130.1 1011,130.1 1012,130.1 L1397.5,130.1" fill="none" stroke="#fb0d0d" stroke-width="1.3"/>
<rect x="793.4" y="83.6" width="604.1" height="274.6" fill="none" stroke="#222" stroke-width="1.5"/>
<line x1="894.1" y1="358.2" x2="894.1" y2="350.2" stroke="#000" stroke-width="1.5"/>
<line x1="994.8" y1="358.2" x2="994.8" y2="350.2" stroke="#000" stroke-width="1.5"/>
<line x1="1095.4" y1="358.2" x2="1095.4" y2="350.2" stroke="#000" stroke-width="1.5"/>
<line x1="1196.1" y1="358.2" x2="1196.1" y2="350.2" stroke="#000" stroke-width="1.5"/>
<line x1="1296.8" y1="358.2" x2="1296.8" y2="350.2" stroke="#000" stroke-width="1.5"/>
<line x1="813.5" y1="358.2" x2="813.5" y2="354.2" stroke="#000" stroke-width="1"/>
<line x1="833.7" y1="358.2" x2="833.7" y2="354.2" stroke="#000" stroke-width="1"/>
<line x1="853.8" y1="358.2" x2="853.8" y2="354.2" stroke="#000" stroke-width="1"/>
<line x1="873.9" y1="358.2" x2="873.9" y2="354.2" stroke="#000" stroke-width="1"/>
<line x1="914.2" y1="358.2" x2="914.2" y2="354.2" stroke="#000" stroke-width="1"/>
<line x1="934.4" y1="358.2" x2="934.4" y2="354.2" stroke="#000" stroke-width="1"/>
<line x1="954.5" y1="358.2" x2="954.5" y2="354.2" stroke="#000" stroke-width="1"/>
<line x1="974.6" y1="358.2" x2="974.6" y2="354.2" stroke="#000" stroke-width="1"/>
<line x1="1014.9" y1="358.2" x2="1014.9" y2="354.2" stroke="#000" stroke-width="1"/>
<line x1="1035" y1="358.2" x2="1035" y2="354.2" stroke="#000" stroke-width="1"/>
<line x1="1055.2" y1="358.2" x2="1055.2" y2="354.2" stroke="#000" stroke-width="1"/>
<line x1="1075.3" y1="358.2" x2="1075.3" y2="354.2" stroke="#000" stroke-width="1"/>
<line x1="1115.6" y1="358.2" x2="1115.6" y2="354.2" stroke="#000" stroke-width="1"/>
<line x1="1135.7" y1="358.2" x2="1135.7" y2="354.2" stroke="#000" stroke-width="1"/>
<line x1="1155.8" y1="358.2" x2="1155.8" y2="354.2" stroke="#000" stroke-width="1"/>
<line x1="1176" y1="358.2" x2="1176" y2="354.2" stroke="#000" stroke-width="1"/>
<line x1="1216.3" y1="358.2" x2="1216.3" y2="354.2" stroke="#000" stroke-width="1"/>
<line x1="1236.4" y1="358.2" x2="1236.4" y2="354.2" stroke="#000" stroke-width="1"/>
<line x1="1256.5" y1="358.2" x2="1256.5" y2="354.2" stroke="#000" stroke-width="1"/>
<line x1="1276.7" y1="358.2" x2="1276.7" y2="354.2" stroke="#000" stroke-width="1"/>
<line x1="1316.9" y1="358.2" x2="1316.9" y2="354.2" stroke="#000" stroke-width="1"/>
<line x1="1337.1" y1="358.2" x2="1337.1" y2="354.2" stroke="#000" stroke-width="1"/>
<line x1="1357.2" y1="358.2" x2="1357.2" y2="354.2" stroke="#000" stroke-width="1"/>
<line x1="1377.3" y1="358.2" x2="1377.3" y2="354.2" stroke="#000" stroke-width="1"/>
<line x1="793.4" y1="327.7" x2="801.4" y2="327.7" stroke="#000" stroke-width="1.5"/>
<line x1="793.4" y1="297.2" x2="801.4" y2="297.2" stroke="#000" stroke-width="1.5"/>
<line x1="793.4" y1="266.7" x2="801.4" y2="266.7" stroke="#000" stroke-width="1.5"/>
<line x1="793.4" y1="236.2" x2="801.4" y2="236.2" stroke="#000" stroke-width="1.5"/>
<line x1="793.4" y1="205.7" x2="801.4" y2="205.7" stroke="#000" stroke-width="1.5"/>
<line x1="793.4" y1="175.2" x2="801.4" y2="175.2" stroke="#000" stroke-width="1.5"/>
<line x1="793.4" y1="144.7" x2="801.4" y2="144.7" stroke="#000" stroke-width="1.5"/>
<line x1="793.4" y1="114.2" x2="801.4" y2="114.2" stroke="#000" stroke-width="1.5"/>
<line x1="793.4" y1="342.9" x2="796.9" y2="342.9" stroke="#000" stroke-width="1"/>
<line x1="793.4" y1="312.4" x2="796.9" y2="312.4" stroke="#000" stroke-width="1"/>
<line x1="793.4" y1="281.9" x2="796.9" y2="281.9" stroke="#000" stroke-width="1"/>
<line x1="793.4" y1="251.4" x2="796.9" y2="251.4" stroke="#000" stroke-width="1"/>
<line x1="793.4" y1="220.9" x2="796.9" y2="220.9" stroke="#000" stroke-width="1"/>
<line x1="793.4" y1="190.4" x2="796.9" y2="190.4" stroke="#000" stroke-width="1"/>
<line x1="793.4" y1="159.9" x2="796.9" y2="159.9" stroke="#000" stroke-width="1"/>
<line x1="793.4" y1="129.4" x2="796.9" y2="129.4" stroke="#000" stroke-width="1"/>
<line x1="793.4" y1="98.9" x2="796.9" y2="98.9" stroke="#000" stroke-width="1"/>
<text transform="translate(894.1,384) scale(0.850,1)" text-anchor="middle" fill="#000" style="font-size:25.4px;">50</text>
<text transform="translate(994.8,384) scale(0.850,1)" text-anchor="middle" fill="#000" style="font-size:25.4px;">100</text>
<text transform="translate(1095.4,384) scale(0.850,1)" text-anchor="middle" fill="#000" style="font-size:25.4px;">150</text>
<text transform="translate(1196.1,384) scale(0.850,1)" text-anchor="middle" fill="#000" style="font-size:25.4px;">200</text>
<text transform="translate(1296.8,384) scale(0.850,1)" text-anchor="middle" fill="#000" style="font-size:25.4px;">250</text>
<text transform="translate(1397.5,384) scale(0.850,1)" text-anchor="middle" fill="#000" style="font-size:25.4px;">300</text>
<text transform="translate(785.4,306.2) scale(0.850,1)" text-anchor="end" fill="#000" style="font-size:25.4px;">0.2</text>
<text transform="translate(785.4,245.2) scale(0.850,1)" text-anchor="end" fill="#000" style="font-size:25.4px;">0.4</text>
<text transform="translate(785.4,184.2) scale(0.850,1)" text-anchor="end" fill="#000" style="font-size:25.4px;">0.6</text>
<text transform="translate(785.4,123.2) scale(0.850,1)" text-anchor="end" fill="#000" style="font-size:25.4px;">0.8</text>
<text transform="translate(790,379.3) scale(0.850,1)" text-anchor="end" fill="#000" style="font-size:25.4px;">0.0</text>
<text transform="translate(736.8,222) rotate(-90) scale(0.820,1)" text-anchor="middle" fill="#000" style="font-size:34px;">Ice volume (km³)</text>
<text transform="translate(1096.3,425.3) scale(0.820,1)" text-anchor="middle" fill="#000" style="font-size:34px;">Simulation time (yr)</text>
<text transform="translate(866,203)" text-anchor="start" fill="#fb0d0d" style="font-size:25px;font-style:italic;">a)</text>
<text transform="translate(938,279)" text-anchor="start" fill="#000" style="font-size:25px;font-style:italic;">b)</text>
<text transform="translate(1060,117.5)" text-anchor="start" fill="#fb0d0d" style="font-size:25.1px;font-style:italic;">Max. volume: 0.749 km<tspan dy="-0.36em">3</tspan></text>
<text transform="translate(1102.8,201.7)" text-anchor="start" fill="#000" style="font-size:25.1px;font-style:italic;">Max. volume: 0.614 km<tspan dy="-0.36em">3</tspan></text>
<path d="M88.5,931.7 C90.6,936.6 97.2,953.5 101.1,961.3 C105,969 108.2,973.4 111.7,978.2 C115.2,983 118.8,986.5 122.3,989.9 C125.8,993.2 129.4,995.5 132.9,998.3 C136.4,1001.1 139.9,1004 143.4,1006.8 C146.9,1009.6 150.5,1011.9 154,1015.2 C157.5,1018.5 161.1,1022.4 164.6,1026.8 C168.1,1031.2 171.6,1035.9 175.1,1041.6 C178.6,1047.2 182.2,1054.7 185.7,1060.7 C189.2,1066.7 192.8,1072.8 196.3,1077.6 C199.8,1082.3 201.5,1085.3 206.8,1089.2 C212.1,1093.1 220.9,1097.5 228,1100.8 C235.1,1104.1 238.5,1106.1 249.1,1109.3 C259.7,1112.5 275.9,1116.4 291.4,1119.9 C306.9,1123.4 326.8,1127.2 342.3,1130.3 C357.8,1133.4 370.5,1135.7 384.6,1138.7 C398.7,1141.7 412.7,1144.9 426.8,1148.2 C440.9,1151.5 455,1154.9 469.1,1158.8 C483.2,1162.7 499.6,1167.9 511.4,1171.5 C523.2,1175.1 531.7,1177.4 540,1180.3 C548.3,1183.2 554.1,1185.6 561.1,1188.8 C568.1,1192 575.2,1195.9 582.3,1199.4 C589.3,1202.9 596.3,1206.2 603.4,1209.9 C610.5,1213.6 618.6,1218.1 624.6,1221.6 C630.6,1225.1 635.2,1228.1 639.4,1231.1 C643.6,1234.1 646.7,1236.3 649.9,1239.5 C653.1,1242.7 655.9,1246.6 658.4,1250.1 C660.9,1253.6 663.7,1258.6 664.7,1260.3 L658.5,1261.3 L648,1257.1 L631.1,1253.9 L609.9,1248.6 L593,1245.4 L579.4,1239.8 L551.9,1239.8 L530.8,1239.4 L509.6,1235.6 L488.5,1231.4 L467.3,1227.1 L446.2,1226.7 L425,1228.2 L403.9,1226.1 L382.8,1223.3 L361.6,1222.9 L340.5,1220.8 L329.9,1216.6 L319.3,1206 L306.7,1193.3 L302.3,1189.8 L293.8,1189.8 L281.2,1183.4 L274.8,1183.4 L257.9,1169.7 L247.3,1153.8 L241,1150.7 L226.2,1132.7 L212.4,1113.7 L207.2,1111.5 L198.7,1096.7 L188.1,1073.5 L178.6,1055.5 L174.4,1054.5 L169.1,1041.8 L156.4,1025.9 L141.6,1014.3 L131.1,1004.8 L120.5,995.3 L109.9,982.6 L99.3,963.6 L90.9,940.7 L87.7,936.9 Z" fill="#e6f2fd" stroke="none"/>
<path d="M87.7,936.9 L90.9,940.7 L99.3,963.6 L109.9,982.6 L120.5,995.3 L131.1,1004.8 L141.6,1014.3 L156.4,1025.9 L169.1,1041.8 L174.4,1054.5 L178.6,1055.5 L188.1,1073.5 L198.7,1096.7 L207.2,1111.5 L212.4,1113.7 L226.2,1132.7 L241,1150.7 L247.3,1153.8 L257.9,1169.7 L274.8,1183.4 L281.2,1183.4 L293.8,1189.8 L302.3,1189.8 L306.7,1193.3 L319.3,1206 L329.9,1216.6 L340.5,1220.8 L361.6,1222.9 L382.8,1223.3 L403.9,1226.1 L425,1228.2 L446.2,1226.7 L467.3,1227.1 L488.5,1231.4 L509.6,1235.6 L530.8,1239.4 L551.9,1239.8 L579.4,1239.8 L593,1245.4 L609.9,1248.6 L631.1,1253.9 L648,1257.1 L658.5,1261.3 L669.1,1262.3 L679.7,1269.7 L705,1282.4 L726.2,1293 L745.2,1300.4 L768.5,1313.1 L779,1315.2 L800.2,1324.7 L821.3,1334.2 L842.5,1342.7 L857.3,1350.1 L870.9,1355.4 L885.7,1363.9 L896.2,1366 L911.1,1373.4 L925.9,1382.9 L938.5,1390.3 L951.2,1396.7 L963.9,1398.8 L972.4,1400.9 L982.9,1408.3 L989.3,1410.4 L997.7,1411 L1010.4,1414.6 L1023.1,1417.8 L1033.7,1420.6 L1042.1,1419.5 L1050.6,1419.5 L1061.2,1415.1 L1073.8,1414.6 L1080.2,1417.2 L1086.5,1423.1 L1090.8,1423.5 L1097.1,1429.4 L1105.6,1432 L1116.1,1436.8 L1126.7,1439.6 L1124.2,1456.2 L88.1,1456.2 Z" fill="#cccccc" stroke="none"/>
<line x1="206.8" y1="1107.3" x2="264" y2="1107.3" stroke="#fb0d0d" stroke-width="1.2" stroke-dasharray="5,2.5"/>
<line x1="221.6" y1="1125.3" x2="304" y2="1125.3" stroke="#222" stroke-width="1.2" stroke-dasharray="5,2.5"/>
<path d="M88.5,931.7 C90.6,936.6 97.2,953.5 101.1,961.3 C105,969 108.2,973.4 111.7,978.2 C115.2,983 118.8,986.5 122.3,989.9 C125.8,993.2 129.4,995.5 132.9,998.3 C136.4,1001.1 139.9,1004 143.4,1006.8 C146.9,1009.6 150.5,1011.9 154,1015.2 C157.5,1018.5 161.1,1022.4 164.6,1026.8 C168.1,1031.2 171.6,1035.9 175.1,1041.6 C178.6,1047.2 182.2,1054.7 185.7,1060.7 C189.2,1066.7 192.8,1072.8 196.3,1077.6 C199.8,1082.3 201.5,1085.3 206.8,1089.2 C212.1,1093.1 220.9,1097.5 228,1100.8 C235.1,1104.1 238.5,1106.1 249.1,1109.3 C259.7,1112.5 275.9,1116.4 291.4,1119.9 C306.9,1123.4 326.8,1127.2 342.3,1130.3 C357.8,1133.4 370.5,1135.7 384.6,1138.7 C398.7,1141.7 412.7,1144.9 426.8,1148.2 C440.9,1151.5 455,1154.9 469.1,1158.8 C483.2,1162.7 499.6,1167.9 511.4,1171.5 C523.2,1175.1 531.7,1177.4 540,1180.3 C548.3,1183.2 554.1,1185.6 561.1,1188.8 C568.1,1192 575.2,1195.9 582.3,1199.4 C589.3,1202.9 596.3,1206.2 603.4,1209.9 C610.5,1213.6 618.6,1218.1 624.6,1221.6 C630.6,1225.1 635.2,1228.1 639.4,1231.1 C643.6,1234.1 646.7,1236.3 649.9,1239.5 C653.1,1242.7 655.9,1246.6 658.4,1250.1 C660.9,1253.6 663.7,1258.6 664.7,1260.3" fill="none" stroke="#111" stroke-width="1.2"/>
<path d="M88.5,927.5 C90.6,932.1 97.2,947.6 101.1,955 C105,962.4 108.2,967.1 111.7,971.9 C115.2,976.6 118.8,980.3 122.3,983.5 C125.8,986.7 129.4,988.8 132.9,990.9 C136.4,993 139.9,993.7 143.4,996.2 C146.9,998.7 150.5,1002 154,1005.7 C157.5,1009.4 161.1,1013.8 164.6,1018.4 C168.1,1023 171.6,1027.6 175.1,1033.2 C178.6,1038.8 182.2,1045.9 185.7,1052.2 C189.2,1058.5 192.8,1066.3 196.3,1071.2 C199.8,1076.1 201.5,1077.9 206.8,1081.8 C212.1,1085.7 220.9,1091.2 228,1094.5 C235.1,1097.8 238.5,1098.9 249.1,1101.9 C259.7,1104.9 275.9,1109 291.4,1112.5 C306.9,1116 326.8,1119.6 342.3,1122.9 C357.8,1126.2 370.5,1129.1 384.6,1132.4 C398.7,1135.7 412.7,1139 426.8,1142.9 C440.9,1146.8 455,1151.4 469.1,1155.6 C483.2,1159.8 499.6,1164.7 511.4,1168.3 C523.2,1171.9 531.7,1174.3 540,1177.2 C548.3,1180.1 554.1,1182.2 561.1,1185.6 C568.1,1188.9 575.2,1193.4 582.3,1197.3 C589.3,1201.2 596.3,1204.9 603.4,1208.9 C610.5,1213 618.6,1217.7 624.6,1221.6 C630.6,1225.5 635.5,1229.1 639.4,1232.1 C643.3,1235.1 645.2,1236.3 647.8,1239.5 C650.4,1242.7 653.1,1247.7 655.2,1251.2 C657.3,1254.7 659.6,1258.8 660.5,1260.3" fill="none" stroke="#fb0d0d" stroke-width="1.3"/>
<path d="M87.7,936.9 C88.1,937.4 89.4,937.1 90.9,940.7 C92.4,944.3 96.8,958 99.3,963.6 C101.8,969.2 107.1,978.4 109.9,982.6 C112.7,986.8 117.7,992.3 120.5,995.3 C123.3,998.3 128.3,1002.3 131.1,1004.8 C133.9,1007.3 138.2,1011.5 141.6,1014.3 C145,1017.1 152.7,1022.2 156.4,1025.9 C160.1,1029.6 166.7,1038 169.1,1041.8 C171.5,1045.6 173.1,1052.7 174.4,1054.5 C175.7,1056.3 176.8,1053 178.6,1055.5 C180.4,1058 185.4,1068 188.1,1073.5 C190.8,1079 196.2,1091.6 198.7,1096.7 C201.2,1101.8 205.4,1109.2 207.2,1111.5 C209,1113.8 209.9,1110.9 212.4,1113.7 C214.9,1116.5 222.4,1127.8 226.2,1132.7 C230,1137.6 238.2,1147.9 241,1150.7 C243.8,1153.5 245,1151.3 247.3,1153.8 C249.6,1156.3 254.2,1165.8 257.9,1169.7 C261.6,1173.6 271.7,1181.6 274.8,1183.4 C277.9,1185.2 278.7,1182.5 281.2,1183.4 C283.7,1184.3 291,1188.9 293.8,1189.8 C296.6,1190.7 300.6,1189.3 302.3,1189.8 C304,1190.3 304.4,1191.1 306.7,1193.3 C309,1195.5 316.2,1202.9 319.3,1206 C322.4,1209.1 327.1,1214.6 329.9,1216.6 C332.7,1218.6 336.3,1220 340.5,1220.8 C344.7,1221.6 356,1222.6 361.6,1222.9 C367.2,1223.2 377.2,1222.9 382.8,1223.3 C388.4,1223.7 398.3,1225.4 403.9,1226.1 C409.5,1226.8 419.4,1228.1 425,1228.2 C430.6,1228.3 440.6,1226.8 446.2,1226.7 C451.8,1226.6 461.7,1226.5 467.3,1227.1 C472.9,1227.7 482.9,1230.3 488.5,1231.4 C494.1,1232.5 504,1234.5 509.6,1235.6 C515.2,1236.7 525.2,1238.8 530.8,1239.4 C536.4,1240 545.4,1239.7 551.9,1239.8 C558.4,1239.9 573.9,1239.1 579.4,1239.8 C584.9,1240.5 588.9,1244.2 593,1245.4 C597.1,1246.6 604.8,1247.5 609.9,1248.6 C615,1249.7 626,1252.8 631.1,1253.9 C636.2,1255 644.3,1256.1 648,1257.1 C651.7,1258.1 655.7,1260.6 658.5,1261.3 C661.3,1262 666.3,1261.2 669.1,1262.3 C671.9,1263.4 674.9,1267 679.7,1269.7 C684.5,1272.4 698.8,1279.3 705,1282.4 C711.2,1285.5 720.8,1290.6 726.2,1293 C731.6,1295.4 739.6,1297.7 745.2,1300.4 C750.8,1303.1 764,1311.1 768.5,1313.1 C773,1315.1 774.8,1313.7 779,1315.2 C783.2,1316.7 794.6,1322.2 800.2,1324.7 C805.8,1327.2 815.7,1331.8 821.3,1334.2 C826.9,1336.6 837.7,1340.6 842.5,1342.7 C847.3,1344.8 853.5,1348.4 857.3,1350.1 C861.1,1351.8 867.1,1353.6 870.9,1355.4 C874.7,1357.2 882.3,1362.5 885.7,1363.9 C889.1,1365.3 892.8,1364.7 896.2,1366 C899.6,1367.3 907.1,1371.1 911.1,1373.4 C915.1,1375.7 922.2,1380.6 925.9,1382.9 C929.6,1385.2 935.1,1388.5 938.5,1390.3 C941.9,1392.1 947.8,1395.6 951.2,1396.7 C954.6,1397.8 961.1,1398.2 963.9,1398.8 C966.7,1399.4 969.9,1399.6 972.4,1400.9 C974.9,1402.2 980.6,1407 982.9,1408.3 C985.2,1409.6 987.3,1410 989.3,1410.4 C991.3,1410.8 994.9,1410.4 997.7,1411 C1000.5,1411.6 1007,1413.7 1010.4,1414.6 C1013.8,1415.5 1020,1417 1023.1,1417.8 C1026.2,1418.6 1031.2,1420.4 1033.7,1420.6 C1036.2,1420.8 1039.8,1419.6 1042.1,1419.5 C1044.4,1419.4 1048.1,1420.1 1050.6,1419.5 C1053.1,1418.9 1058.1,1415.8 1061.2,1415.1 C1064.3,1414.4 1071.3,1414.3 1073.8,1414.6 C1076.3,1414.9 1078.5,1416.1 1080.2,1417.2 C1081.9,1418.3 1085.1,1422.3 1086.5,1423.1 C1087.9,1423.9 1089.4,1422.7 1090.8,1423.5 C1092.2,1424.3 1095.1,1428.3 1097.1,1429.4 C1099.1,1430.5 1103.1,1431 1105.6,1432 C1108.1,1433 1113.3,1435.8 1116.1,1436.8 C1118.9,1437.8 1125.3,1439.2 1126.7,1439.6" fill="none" stroke="#000" stroke-width="2.15" stroke-linejoin="round"/>
<line x1="88.1" y1="893.9" x2="88.1" y2="1457.4" stroke="#000" stroke-width="2.4"/>
<line x1="86.9" y1="1456.2" x2="1272" y2="1456.2" stroke="#000" stroke-width="2.4"/>
<line x1="88.1" y1="1416.1" x2="94.1" y2="1416.1" stroke="#000" stroke-width="1.5"/>
<line x1="88.1" y1="1376.1" x2="98.6" y2="1376.1" stroke="#000" stroke-width="2.7" stroke-linecap="round"/>
<line x1="88.1" y1="1336" x2="94.1" y2="1336" stroke="#000" stroke-width="1.5"/>
<line x1="88.1" y1="1295.9" x2="98.6" y2="1295.9" stroke="#000" stroke-width="2.7" stroke-linecap="round"/>
<line x1="88.1" y1="1255.8" x2="94.1" y2="1255.8" stroke="#000" stroke-width="1.5"/>
<line x1="88.1" y1="1215.8" x2="98.6" y2="1215.8" stroke="#000" stroke-width="2.7" stroke-linecap="round"/>
<line x1="88.1" y1="1175.7" x2="94.1" y2="1175.7" stroke="#000" stroke-width="1.5"/>
<line x1="88.1" y1="1135.6" x2="98.6" y2="1135.6" stroke="#000" stroke-width="2.7" stroke-linecap="round"/>
<line x1="88.1" y1="1095.6" x2="94.1" y2="1095.6" stroke="#000" stroke-width="1.5"/>
<line x1="88.1" y1="1055.5" x2="98.6" y2="1055.5" stroke="#000" stroke-width="2.7" stroke-linecap="round"/>
<line x1="88.1" y1="1015.4" x2="94.1" y2="1015.4" stroke="#000" stroke-width="1.5"/>
<line x1="88.1" y1="975.3" x2="98.6" y2="975.3" stroke="#000" stroke-width="2.7" stroke-linecap="round"/>
<line x1="88.1" y1="935.3" x2="94.1" y2="935.3" stroke="#000" stroke-width="1.5"/>
<line x1="88.1" y1="895.2" x2="98.6" y2="895.2" stroke="#000" stroke-width="2.7" stroke-linecap="round"/>
<line x1="117.7" y1="1456.2" x2="117.7" y2="1450.2" stroke="#000" stroke-width="1.5"/>
<line x1="147.2" y1="1456.2" x2="147.2" y2="1450.2" stroke="#000" stroke-width="1.5"/>
<line x1="176.8" y1="1456.2" x2="176.8" y2="1450.2" stroke="#000" stroke-width="1.5"/>
<line x1="206.4" y1="1456.2" x2="206.4" y2="1450.2" stroke="#000" stroke-width="1.5"/>
<line x1="235.9" y1="1456.2" x2="235.9" y2="1445.7" stroke="#000" stroke-width="2.7" stroke-linecap="round"/>
<line x1="265.5" y1="1456.2" x2="265.5" y2="1450.2" stroke="#000" stroke-width="1.5"/>
<line x1="295" y1="1456.2" x2="295" y2="1450.2" stroke="#000" stroke-width="1.5"/>
<line x1="324.6" y1="1456.2" x2="324.6" y2="1450.2" stroke="#000" stroke-width="1.5"/>
<line x1="354.2" y1="1456.2" x2="354.2" y2="1450.2" stroke="#000" stroke-width="1.5"/>
<line x1="383.7" y1="1456.2" x2="383.7" y2="1445.7" stroke="#000" stroke-width="2.7" stroke-linecap="round"/>
<line x1="413.3" y1="1456.2" x2="413.3" y2="1450.2" stroke="#000" stroke-width="1.5"/>
<line x1="442.9" y1="1456.2" x2="442.9" y2="1450.2" stroke="#000" stroke-width="1.5"/>
<line x1="472.4" y1="1456.2" x2="472.4" y2="1450.2" stroke="#000" stroke-width="1.5"/>
<line x1="502" y1="1456.2" x2="502" y2="1450.2" stroke="#000" stroke-width="1.5"/>
<line x1="531.6" y1="1456.2" x2="531.6" y2="1445.7" stroke="#000" stroke-width="2.7" stroke-linecap="round"/>
<line x1="561.1" y1="1456.2" x2="561.1" y2="1450.2" stroke="#000" stroke-width="1.5"/>
<line x1="590.7" y1="1456.2" x2="590.7" y2="1450.2" stroke="#000" stroke-width="1.5"/>
<line x1="620.3" y1="1456.2" x2="620.3" y2="1450.2" stroke="#000" stroke-width="1.5"/>
<line x1="649.8" y1="1456.2" x2="649.8" y2="1450.2" stroke="#000" stroke-width="1.5"/>
<line x1="679.4" y1="1456.2" x2="679.4" y2="1445.7" stroke="#000" stroke-width="2.7" stroke-linecap="round"/>
<line x1="708.9" y1="1456.2" x2="708.9" y2="1450.2" stroke="#000" stroke-width="1.5"/>
<line x1="738.5" y1="1456.2" x2="738.5" y2="1450.2" stroke="#000" stroke-width="1.5"/>
<line x1="768.1" y1="1456.2" x2="768.1" y2="1450.2" stroke="#000" stroke-width="1.5"/>
<line x1="797.6" y1="1456.2" x2="797.6" y2="1450.2" stroke="#000" stroke-width="1.5"/>
<line x1="827.2" y1="1456.2" x2="827.2" y2="1445.7" stroke="#000" stroke-width="2.7" stroke-linecap="round"/>
<line x1="856.8" y1="1456.2" x2="856.8" y2="1450.2" stroke="#000" stroke-width="1.5"/>
<line x1="886.3" y1="1456.2" x2="886.3" y2="1450.2" stroke="#000" stroke-width="1.5"/>
<line x1="915.9" y1="1456.2" x2="915.9" y2="1450.2" stroke="#000" stroke-width="1.5"/>
<line x1="945.5" y1="1456.2" x2="945.5" y2="1450.2" stroke="#000" stroke-width="1.5"/>
<line x1="975" y1="1456.2" x2="975" y2="1445.7" stroke="#000" stroke-width="2.7" stroke-linecap="round"/>
<line x1="1004.6" y1="1456.2" x2="1004.6" y2="1450.2" stroke="#000" stroke-width="1.5"/>
<line x1="1034.1" y1="1456.2" x2="1034.1" y2="1450.2" stroke="#000" stroke-width="1.5"/>
<line x1="1063.7" y1="1456.2" x2="1063.7" y2="1450.2" stroke="#000" stroke-width="1.5"/>
<line x1="1093.3" y1="1456.2" x2="1093.3" y2="1450.2" stroke="#000" stroke-width="1.5"/>
<line x1="1122.8" y1="1456.2" x2="1122.8" y2="1445.7" stroke="#000" stroke-width="2.7" stroke-linecap="round"/>
<line x1="1152.4" y1="1456.2" x2="1152.4" y2="1450.2" stroke="#000" stroke-width="1.5"/>
<line x1="1182" y1="1456.2" x2="1182" y2="1450.2" stroke="#000" stroke-width="1.5"/>
<line x1="1211.5" y1="1456.2" x2="1211.5" y2="1450.2" stroke="#000" stroke-width="1.5"/>
<line x1="1241.1" y1="1456.2" x2="1241.1" y2="1450.2" stroke="#000" stroke-width="1.5"/>
<line x1="1270.7" y1="1456.2" x2="1270.7" y2="1445.7" stroke="#000" stroke-width="2.7" stroke-linecap="round"/>
<text transform="translate(77.2,1456.4)" text-anchor="end" fill="#000" style="font-size:23.5px;">0.8</text>
<text transform="translate(75.6,1384.2)" text-anchor="end" fill="#000" style="font-size:23.5px;">1.0</text>
<text transform="translate(75.6,1304.1)" text-anchor="end" fill="#000" style="font-size:23.5px;">1.2</text>
<text transform="translate(75.6,1223.9)" text-anchor="end" fill="#000" style="font-size:23.5px;">1.4</text>
<text transform="translate(75.6,1143.8)" text-anchor="end" fill="#000" style="font-size:23.5px;">1.6</text>
<text transform="translate(75.6,1063.6)" text-anchor="end" fill="#000" style="font-size:23.5px;">1.8</text>
<text transform="translate(75.6,983.5)" text-anchor="end" fill="#000" style="font-size:23.5px;">2.0</text>
<text transform="translate(75.6,903.4)" text-anchor="end" fill="#000" style="font-size:23.5px;">2.2</text>
<text transform="translate(88.1,1481.6) scale(0.900,1)" text-anchor="middle" fill="#000" style="font-size:23.5px;">0.0</text>
<text transform="translate(235.9,1481.6) scale(0.900,1)" text-anchor="middle" fill="#000" style="font-size:23.5px;">1.0</text>
<text transform="translate(383.7,1481.6) scale(0.900,1)" text-anchor="middle" fill="#000" style="font-size:23.5px;">2.0</text>
<text transform="translate(531.6,1481.6) scale(0.900,1)" text-anchor="middle" fill="#000" style="font-size:23.5px;">3.0</text>
<text transform="translate(679.4,1481.6) scale(0.900,1)" text-anchor="middle" fill="#000" style="font-size:23.5px;">4.0</text>
<text transform="translate(827.2,1481.6) scale(0.900,1)" text-anchor="middle" fill="#000" style="font-size:23.5px;">5.0</text>
<text transform="translate(975,1481.6) scale(0.900,1)" text-anchor="middle" fill="#000" style="font-size:23.5px;">6.0</text>
<text transform="translate(1122.8,1481.6) scale(0.900,1)" text-anchor="middle" fill="#000" style="font-size:23.5px;">7.0</text>
<text transform="translate(1270.7,1481.6) scale(0.900,1)" text-anchor="middle" fill="#000" style="font-size:23.5px;">8.0</text>
<text transform="translate(681.6,1520) scale(0.820,1)" text-anchor="middle" fill="#000" style="font-size:34px;">Distance from headwall (km)</text>
<text transform="translate(27.8,1149.5) rotate(-90) scale(0.820,1)" text-anchor="middle" fill="#000" style="font-size:34px;">Elevation (km a.s.l)</text>
<text transform="translate(100,1112)" text-anchor="start" fill="#fb0d0d" style="font-size:17.6px;font-style:italic;">ELA: 1670 m</text>
<text transform="translate(108.5,1131.5)" text-anchor="start" fill="#fb0d0d" style="font-size:17.6px;font-style:italic;">AAR: ~0.6</text>
<text transform="translate(238.6,1142)" text-anchor="start" fill="#000" style="font-size:17.6px;font-style:italic;">ELA: 1625 m</text>
<text transform="translate(257.6,1161)" text-anchor="start" fill="#000" style="font-size:17.6px;font-style:italic;">AAR: ~0.7</text>
<text transform="translate(477.2,1150)" text-anchor="start" fill="#fb0d0d" style="font-size:21.5px;font-style:italic;">a)</text>
<text transform="translate(454,1178.9)" text-anchor="start" fill="#000" style="font-size:21.5px;font-style:italic;">b)</text>
<text transform="translate(518.8,1233.2)" text-anchor="start" fill="#000" style="font-size:25.5px;font-style:italic;">bed</text>
<text transform="translate(137.7,1313.4)" text-anchor="start" fill="#fb0d0d" style="font-size:25.5px;font-style:italic;">a) Max. glacier thickness: 231 m</text>
<text transform="translate(137.7,1352.4)" text-anchor="start" fill="#000" style="font-size:25.5px;font-style:italic;">b) Max. glacier thickness: 225 m</text>
<text transform="translate(4.4,805.2) scale(0.990,1)" text-anchor="start" fill="#000" style="font-size:44px;font-weight:bold;">B</text>
<text transform="translate(1385.4,817.8) scale(0.889,1)" text-anchor="end" fill="#000" style="font-size:33.8px;font-weight:bold;" stroke="#000" stroke-width="0.45">EL-mid glacier advance/still-stand (YD?)</text>
<line x1="676.7" y1="823.8" x2="676.7" y2="1201" stroke="#000" stroke-width="2.6"/>
<rect x="238.2" y="814.5" width="385.8" height="174.5" fill="#fff"/>
<line x1="302.5" y1="814.5" x2="302.5" y2="989" stroke="#e6e6e6" stroke-width="1"/>
<line x1="366.8" y1="814.5" x2="366.8" y2="989" stroke="#e6e6e6" stroke-width="1"/>
<line x1="431.1" y1="814.5" x2="431.1" y2="989" stroke="#e6e6e6" stroke-width="1"/>
<line x1="495.4" y1="814.5" x2="495.4" y2="989" stroke="#e6e6e6" stroke-width="1"/>
<line x1="559.7" y1="814.5" x2="559.7" y2="989" stroke="#e6e6e6" stroke-width="1"/>
<line x1="238.2" y1="828.8" x2="624" y2="828.8" stroke="#e6e6e6" stroke-width="1"/>
<line x1="238.2" y1="855.5" x2="624" y2="855.5" stroke="#e6e6e6" stroke-width="1"/>
<line x1="238.2" y1="882.2" x2="624" y2="882.2" stroke="#e6e6e6" stroke-width="1"/>
<line x1="238.2" y1="908.9" x2="624" y2="908.9" stroke="#e6e6e6" stroke-width="1"/>
<line x1="238.2" y1="935.6" x2="624" y2="935.6" stroke="#e6e6e6" stroke-width="1"/>
<line x1="238.2" y1="962.3" x2="624" y2="962.3" stroke="#e6e6e6" stroke-width="1"/>
<path d="M238.2,821.8 L247.8,826 L257.5,830.1 L267.1,834.2 L276.8,838.3 L286.4,842.4 L296.1,846.5 L305.7,850.5 L315.4,854.6 L325,858.6 L334.7,862.7 L344.3,866.7 L353.9,870.7 L363.6,874.7 L373.2,878.7 L382.9,882.7 L392.5,886.7 L402.2,890.7 L411.8,894.7 L421.5,898.6 L431.1,902.6 L440.7,906.5 L450.4,910.4 L460,914.3 L469.7,918.2 L479.3,922.1 L489,926 L498.6,929.9 L508.3,933.8 L517.9,937.6 L527.5,941.5 L537.2,945.3 L546.8,949.1 L556.5,953 L566.1,956.8 L575.8,960.6 L585.4,964.4 L595.1,968.1 L604.7,971.9 L614.4,975.7 L624,979.4" fill="none" stroke="#1f3cff" stroke-width="1.6"/>
<rect x="238.2" y="814.5" width="385.8" height="174.5" fill="none" stroke="#000" stroke-width="1.8"/>
<line x1="302.5" y1="989" x2="302.5" y2="982" stroke="#000" stroke-width="1.6"/>
<line x1="366.8" y1="989" x2="366.8" y2="982" stroke="#000" stroke-width="1.6"/>
<line x1="431.1" y1="989" x2="431.1" y2="982" stroke="#000" stroke-width="1.6"/>
<line x1="495.4" y1="989" x2="495.4" y2="982" stroke="#000" stroke-width="1.6"/>
<line x1="559.7" y1="989" x2="559.7" y2="982" stroke="#000" stroke-width="1.6"/>
<line x1="238.2" y1="855.5" x2="245.2" y2="855.5" stroke="#000" stroke-width="1.6"/>
<line x1="238.2" y1="908.9" x2="245.2" y2="908.9" stroke="#000" stroke-width="1.6"/>
<line x1="238.2" y1="962.3" x2="245.2" y2="962.3" stroke="#000" stroke-width="1.6"/>
<text transform="translate(238.2,1010) scale(1.020,1)" text-anchor="middle" fill="#000" style="font-size:19.3px;">0.59</text>
<text transform="translate(302.5,1010) scale(1.020,1)" text-anchor="middle" fill="#000" style="font-size:19.3px;">0.61</text>
<text transform="translate(366.8,1010) scale(1.020,1)" text-anchor="middle" fill="#000" style="font-size:19.3px;">0.63</text>
<text transform="translate(431.1,1010) scale(1.020,1)" text-anchor="middle" fill="#000" style="font-size:19.3px;">0.65</text>
<text transform="translate(495.4,1010) scale(1.020,1)" text-anchor="middle" fill="#000" style="font-size:19.3px;">0.67</text>
<text transform="translate(559.7,1010) scale(1.020,1)" text-anchor="middle" fill="#000" style="font-size:19.3px;">0.69</text>
<text transform="translate(624,1010) scale(1.020,1)" text-anchor="middle" fill="#000" style="font-size:19.3px;">0.71</text>
<text transform="translate(233,862.8) scale(1.020,1)" text-anchor="end" fill="#000" style="font-size:19.3px;">1.665</text>
<text transform="translate(233,916.2) scale(1.020,1)" text-anchor="end" fill="#000" style="font-size:19.3px;">1.645</text>
<text transform="translate(233,969.6) scale(1.020,1)" text-anchor="end" fill="#000" style="font-size:19.3px;">1.625</text>
<text transform="translate(170.8,904.6) rotate(-90)" text-anchor="middle" fill="#000" style="font-size:30px;">ELA (km)</text>
<text transform="translate(430.7,1047.3)" text-anchor="middle" fill="#000" style="font-size:30px;">AAR</text>
<text transform="translate(268.6,956)" text-anchor="start" fill="#000" style="font-size:30.4px;font-style:italic;">R<tspan dy="-0.39em">2</tspan><tspan dy="0.39em"> = 0.9242</tspan></text>
<text transform="translate(374,853.3)" text-anchor="start" fill="#000" style="font-size:22.9px;font-style:italic;">y = 199.85x<tspan dy="-0.39em">2</tspan><tspan dy="0.39em"> - 751.63x</tspan></text>
<text transform="translate(451.3,875)" text-anchor="start" fill="#000" style="font-size:22.9px;font-style:italic;">+ 2051.5</text>
<line x1="889.1" y1="893" x2="889.1" y2="1155.8" stroke="#e6e6e6" stroke-width="1"/>
<line x1="971.7" y1="893" x2="971.7" y2="1155.8" stroke="#e6e6e6" stroke-width="1"/>
<line x1="1054.2" y1="893" x2="1054.2" y2="1155.8" stroke="#e6e6e6" stroke-width="1"/>
<line x1="1136.8" y1="893" x2="1136.8" y2="1155.8" stroke="#e6e6e6" stroke-width="1"/>
<line x1="1219.4" y1="893" x2="1219.4" y2="1155.8" stroke="#e6e6e6" stroke-width="1"/>
<line x1="1302" y1="893" x2="1302" y2="1155.8" stroke="#e6e6e6" stroke-width="1"/>
<line x1="806.5" y1="1080.6" x2="1384.6" y2="1080.6" stroke="#e6e6e6" stroke-width="1"/>
<line x1="806.5" y1="1005.4" x2="1384.6" y2="1005.4" stroke="#e6e6e6" stroke-width="1"/>
<line x1="806.5" y1="930.2" x2="1384.6" y2="930.2" stroke="#e6e6e6" stroke-width="1"/>
<path d="M806.5,1155.8 C808.9,1153.1 815.1,1146.1 821.1,1139.5 C827.1,1132.9 835.2,1124 842.3,1116.2 C849.3,1108.5 857.1,1099.7 863.4,1093 C869.7,1086.3 876.1,1080 880.3,1076 C884.5,1072 885.3,1071.8 888.8,1069.3 C892.3,1066.8 896.6,1063.5 901.5,1060.8 C906.4,1058 912.4,1055.5 918.4,1052.8 C924.4,1050 930.7,1046.9 937.4,1044.3 C944.1,1041.7 953,1038.8 958.6,1036.9 C964.2,1035 965.9,1034.8 971.2,1032.7 C976.5,1030.6 983.6,1027.2 990.3,1024.2 C997,1021.2 1004.4,1017.7 1011.4,1014.7 C1018.4,1011.7 1025.5,1009 1032.6,1006.3 C1039.6,1003.5 1046.7,1000.9 1053.7,998.2 C1060.7,995.6 1067.1,993 1074.8,990.4 C1082.5,987.8 1089.5,986.1 1100,982.6 C1110.5,979.1 1125.2,973.3 1137.5,969.6 C1149.8,965.9 1159.8,963 1173.5,960.3 C1187.2,957.5 1201.7,955.3 1219.5,953.1 C1237.3,950.9 1261.4,948.4 1280.4,946.9 C1299.5,945.4 1316.4,945 1333.8,944.3 C1351.2,943.6 1376.1,943.1 1384.6,942.9" fill="none" stroke="#000" stroke-width="1.3"/>
<path d="M806.5,1155.8 C807.5,1152.7 810.3,1143.8 812.7,1137.4 C815.1,1131 817.9,1124.3 821.1,1117.3 C824.3,1110.2 828.2,1101.6 831.7,1095.1 C835.2,1088.6 838.8,1083.7 842.3,1078.2 C845.8,1072.7 849.4,1066.7 852.9,1062.3 C856.4,1057.9 859.9,1054.9 863.4,1051.7 C866.9,1048.5 869.8,1046.5 874,1043.3 C878.2,1040.1 883.5,1036.4 888.8,1032.7 C894.1,1029 899.4,1025.3 905.7,1021.1 C912,1016.9 919.8,1012.1 926.8,1007.3 C933.8,1002.5 940.6,997.2 948,992.5 C955.4,987.8 964.2,982.7 971.2,978.8 C978.2,974.9 983.6,972.5 990.3,969.3 C997,966.1 1004.4,962.8 1011.4,959.8 C1018.4,956.8 1025.5,954.1 1032.6,951.3 C1039.6,948.5 1046.7,945.4 1053.7,942.9 C1060.7,940.4 1067.1,938.6 1074.8,936.5 C1082.5,934.4 1089.5,932.4 1100,930.4 C1110.5,928.4 1125.2,925.9 1137.5,924.2 C1149.8,922.5 1159.8,921.5 1173.5,920.2 C1187.2,918.9 1201.7,917.5 1219.5,916.2 C1237.3,915 1261.4,913.5 1280.4,912.7 C1299.5,911.9 1316.4,911.7 1333.8,911.4 C1351.2,911.1 1376.1,911.1 1384.6,911.1" fill="none" stroke="#fb0d0d" stroke-width="1.3"/>
<rect x="806.5" y="893" width="578.1" height="262.8" fill="none" stroke="#222" stroke-width="1.5"/>
<line x1="889.1" y1="1155.8" x2="889.1" y2="1147.8" stroke="#000" stroke-width="1.5"/>
<line x1="971.7" y1="1155.8" x2="971.7" y2="1147.8" stroke="#000" stroke-width="1.5"/>
<line x1="1054.2" y1="1155.8" x2="1054.2" y2="1147.8" stroke="#000" stroke-width="1.5"/>
<line x1="1136.8" y1="1155.8" x2="1136.8" y2="1147.8" stroke="#000" stroke-width="1.5"/>
<line x1="1219.4" y1="1155.8" x2="1219.4" y2="1147.8" stroke="#000" stroke-width="1.5"/>
<line x1="1302" y1="1155.8" x2="1302" y2="1147.8" stroke="#000" stroke-width="1.5"/>
<line x1="806.5" y1="1080.6" x2="814.5" y2="1080.6" stroke="#000" stroke-width="1.5"/>
<line x1="806.5" y1="1005.4" x2="814.5" y2="1005.4" stroke="#000" stroke-width="1.5"/>
<line x1="806.5" y1="930.2" x2="814.5" y2="930.2" stroke="#000" stroke-width="1.5"/>
<line x1="806.5" y1="1118.2" x2="814" y2="1118.2" stroke="#000" stroke-width="1.2"/>
<line x1="806.5" y1="1043" x2="814" y2="1043" stroke="#000" stroke-width="1.2"/>
<line x1="806.5" y1="967.8" x2="814" y2="967.8" stroke="#000" stroke-width="1.2"/>
<text transform="translate(889.1,1181.3) scale(0.900,1)" text-anchor="middle" fill="#000" style="font-size:23.4px;">100</text>
<text transform="translate(971.7,1181.3) scale(0.900,1)" text-anchor="middle" fill="#000" style="font-size:23.4px;">200</text>
<text transform="translate(1054.2,1181.3) scale(0.900,1)" text-anchor="middle" fill="#000" style="font-size:23.4px;">300</text>
<text transform="translate(1136.8,1181.3) scale(0.900,1)" text-anchor="middle" fill="#000" style="font-size:23.4px;">400</text>
<text transform="translate(1219.4,1181.3) scale(0.900,1)" text-anchor="middle" fill="#000" style="font-size:23.4px;">500</text>
<text transform="translate(1302,1181.3) scale(0.900,1)" text-anchor="middle" fill="#000" style="font-size:23.4px;">600</text>
<text transform="translate(1384.6,1181.3) scale(0.900,1)" text-anchor="middle" fill="#000" style="font-size:23.4px;">700</text>
<text transform="translate(798.5,1088.9) scale(0.900,1)" text-anchor="end" fill="#000" style="font-size:23.4px;">0.10</text>
<text transform="translate(798.5,1013.7) scale(0.900,1)" text-anchor="end" fill="#000" style="font-size:23.4px;">0.20</text>
<text transform="translate(798.5,938.5) scale(0.900,1)" text-anchor="end" fill="#000" style="font-size:23.4px;">0.30</text>
<text transform="translate(804,1179) scale(0.900,1)" text-anchor="end" fill="#000" style="font-size:23.4px;">0.0</text>
<text transform="translate(736.8,1019) rotate(-90) scale(0.820,1)" text-anchor="middle" fill="#000" style="font-size:32.5px;">Ice volume (km³)</text>
<text transform="translate(1100.6,1224.5) scale(0.820,1)" text-anchor="middle" fill="#000" style="font-size:32.5px;">Simulation time (yr)</text>
<text transform="translate(911.8,998.2)" text-anchor="start" fill="#fb0d0d" style="font-size:23.5px;font-style:italic;">a)</text>
<text transform="translate(938,1064)" text-anchor="start" fill="#000" style="font-size:23.5px;font-style:italic;">b)</text>
<text transform="translate(870,922)" text-anchor="start" fill="#fb0d0d" style="font-size:24.1px;font-style:italic;">Max. volume: 0.330 km<tspan dy="-0.36em">3</tspan></text>
<text transform="translate(1116.7,997.7)" text-anchor="start" fill="#000" style="font-size:24.1px;font-style:italic;">Max. volume: 0.284 km<tspan dy="-0.36em">3</tspan></text>
<path d="M91.6,1789.6 C92.5,1791.4 95,1794.9 96.9,1800.2 C98.9,1805.5 101.2,1814.8 103.3,1821.3 C105.4,1827.8 107.7,1834.7 109.6,1839.3 C111.5,1843.9 112.1,1846 114.9,1848.8 C117.7,1851.6 121.8,1853.5 126.5,1856.2 C131.2,1858.9 137.1,1862.2 143.4,1864.7 C149.8,1867.2 157.6,1868.7 164.6,1871 C171.6,1873.3 178.7,1876.3 185.7,1878.4 C192.7,1880.5 196.2,1881.8 206.8,1883.7 C217.4,1885.6 235,1887.9 249.1,1890 C263.2,1892.1 277.3,1893.9 291.4,1896.4 C305.5,1898.9 322.3,1902.2 333.7,1904.8 C345.1,1907.4 352.1,1909.8 360,1912 C367.9,1914.2 374.1,1916.2 381.1,1918.3 C388.2,1920.4 391.7,1921.9 402.3,1924.7 C412.9,1927.5 430.5,1931.9 444.6,1935.2 C458.7,1938.5 472.7,1941.7 486.8,1944.7 C500.9,1947.7 515,1950.4 529.1,1953.2 C543.2,1956 557.3,1958.8 571.4,1961.6 C585.5,1964.4 602.3,1967.8 613.7,1970.1 C625.1,1972.3 628.6,1972.7 640,1975.1 C651.4,1977.5 668.2,1981.3 682.3,1984.6 C696.4,1987.9 710.5,1991.4 724.6,1995.1 C738.7,1998.8 752.7,2002.9 766.8,2006.8 C780.9,2010.7 795,2014.5 809.1,2018.4 C823.2,2022.3 837.3,2026.1 851.4,2030 C865.5,2033.9 882.3,2038.3 893.7,2041.6 C905.1,2044.9 911.1,2046.8 920,2049.6 C928.9,2052.4 937.9,2055.2 946.8,2058.3 C955.7,2061.4 964.7,2064.6 973.6,2068.3 C982.5,2072 991.4,2076.3 1000.3,2080.3 C1009.2,2084.3 1018.2,2088.2 1027.1,2092.4 C1036,2096.7 1045,2101.1 1053.9,2105.8 C1062.8,2110.5 1072.7,2115.8 1080.7,2120.5 C1088.7,2125.2 1095,2128.5 1102.1,2133.9 C1109.2,2139.3 1117.2,2146.9 1123.5,2152.7 C1129.8,2158.5 1135.1,2164.3 1139.6,2168.7 C1144.1,2173.1 1148.5,2177.2 1150.3,2178.9 L1145,2176.2 L1134.3,2172.7 L1124.9,2175.4 L1112.8,2167.4 L1102.1,2162 L1091.4,2163.4 L1082,2158 L1075.3,2158 L1059.3,2151.3 L1045.9,2152.1 L1027.1,2144.6 L1005.7,2138.7 L992.3,2139.3 L973.6,2135.2 L954.8,2129.9 L930.7,2123.2 L912.7,2123 L893.7,2117.8 L872.6,2112.5 L851.4,2110.4 L840.8,2108.2 L823.9,2103.4 L813.4,2103.4 L800.7,2098.7 L794.3,2097 L788,2099.4 L781.6,2099.8 L766.8,2097.7 L745.7,2095.6 L724.6,2092.4 L703.4,2089.2 L682.3,2087.1 L661.1,2082.9 L646.3,2078.6 L634.8,2078.6 L624.3,2077.5 L603.1,2073.7 L582,2067.4 L563,2062.7 L546,2059.5 L533.4,2053.6 L518.6,2047.3 L499.5,2041.4 L486.8,2039.9 L465.7,2033.5 L453,2029.7 L442.5,2026.1 L429.8,2016.6 L417.1,2006.5 L408.6,2005 L400.2,1999.7 L391.7,1989.1 L385.4,1984.5 L371.8,1983.7 L344.3,1982 L318.9,1982 L291.4,1981.6 L270.3,1980.9 L255.5,1977.8 L238.6,1974 L223.8,1972 L211.1,1963 L202.6,1951.3 L194.2,1935.5 L185.7,1921.7 L179.4,1918.1 L164.6,1917.1 L154,1916.4 L145.5,1909 L137.1,1895.3 L129.7,1881.6 L122.3,1872.1 L113.8,1853 L107.5,1829.8 L101.1,1810.7 L94.8,1798.1 L91.6,1795.9 Z" fill="#e6f2fd" stroke="none"/>
<path d="M91.6,1795.9 L94.8,1798.1 L101.1,1810.7 L107.5,1829.8 L113.8,1853 L122.3,1872.1 L129.7,1881.6 L137.1,1895.3 L145.5,1909 L154,1916.4 L164.6,1917.1 L179.4,1918.1 L185.7,1921.7 L194.2,1935.5 L202.6,1951.3 L211.1,1963 L223.8,1972 L238.6,1974 L255.5,1977.8 L270.3,1980.9 L291.4,1981.6 L318.9,1982 L344.3,1982 L371.8,1983.7 L385.4,1984.5 L391.7,1989.1 L400.2,1999.7 L408.6,2005 L417.1,2006.5 L429.8,2016.6 L442.5,2026.1 L453,2029.7 L465.7,2033.5 L486.8,2039.9 L499.5,2041.4 L518.6,2047.3 L533.4,2053.6 L546,2059.5 L563,2062.7 L582,2067.4 L603.1,2073.7 L624.3,2077.5 L634.8,2078.6 L646.3,2078.6 L661.1,2082.9 L682.3,2087.1 L703.4,2089.2 L724.6,2092.4 L745.7,2095.6 L766.8,2097.7 L781.6,2099.8 L788,2099.4 L794.3,2097 L800.7,2098.7 L813.4,2103.4 L823.9,2103.4 L840.8,2108.2 L851.4,2110.4 L872.6,2112.5 L893.7,2117.8 L912.7,2123 L930.7,2123.2 L954.8,2129.9 L973.6,2135.2 L992.3,2139.3 L1005.7,2138.7 L1027.1,2144.6 L1045.9,2152.1 L1059.3,2151.3 L1075.3,2158 L1082,2158 L1091.4,2163.4 L1102.1,2162 L1112.8,2167.4 L1124.9,2175.4 L1134.3,2172.7 L1145,2176.2 L1155.7,2183.4 L1166.4,2189.6 L1174.4,2198.2 L1186.5,2207.6 L1201.2,2212.9 L1220,2220.1 L1241.4,2226.3 L1260.1,2225.8 L1274.3,2229.8 L1274.3,2263.7 L91.6,2263.7 Z" fill="#b9b9b9" stroke="none"/>
<path d="M91.6,1848.4 C92,1848.7 93.5,1848.6 94.8,1850.6 C96.1,1852.6 99.4,1859 101.1,1863.2 C102.8,1867.4 105.8,1876.7 107.5,1882.3 C109.2,1887.9 111.8,1899.9 113.8,1905.5 C115.8,1911.1 120.2,1920.8 122.3,1924.6 C124.4,1928.4 127.7,1931 129.7,1934.1 C131.7,1937.2 135,1944.1 137.1,1947.8 C139.2,1951.5 143.2,1958.7 145.5,1961.5 C147.8,1964.3 151.5,1967.8 154,1968.9 C156.5,1970 161.2,1969.4 164.6,1969.6 C168,1969.8 176.6,1970 179.4,1970.6 C182.2,1971.2 183.7,1971.9 185.7,1974.2 C187.7,1976.5 191.9,1984.1 194.2,1988 C196.5,1991.9 200.3,2000.1 202.6,2003.8 C204.9,2007.5 208.3,2012.7 211.1,2015.5 C213.9,2018.3 220.1,2023 223.8,2024.5 C227.5,2026 234.4,2025.7 238.6,2026.5 C242.8,2027.3 251.3,2029.4 255.5,2030.3 C259.7,2031.2 265.5,2032.9 270.3,2033.4 C275.1,2033.9 284.9,2034 291.4,2034.1 C297.9,2034.2 311.8,2034.4 318.9,2034.5 C326,2034.6 337.2,2034.3 344.3,2034.5 C351.4,2034.7 366.3,2035.9 371.8,2036.2 C377.3,2036.5 382.7,2036.3 385.4,2037 C388.1,2037.7 389.7,2039.6 391.7,2041.6 C393.7,2043.6 397.9,2050.1 400.2,2052.2 C402.5,2054.3 406.3,2056.6 408.6,2057.5 C410.9,2058.4 414.3,2057.5 417.1,2059 C419.9,2060.5 426.4,2066.5 429.8,2069.1 C433.2,2071.7 439.4,2076.9 442.5,2078.6 C445.6,2080.3 449.9,2081.2 453,2082.2 C456.1,2083.2 461.2,2084.6 465.7,2086 C470.2,2087.4 482.3,2091.3 486.8,2092.4 C491.3,2093.5 495.3,2092.9 499.5,2093.9 C503.7,2094.9 514.1,2098.2 518.6,2099.8 C523.1,2101.4 529.7,2104.5 533.4,2106.1 C537.1,2107.7 542.1,2110.8 546,2112 C549.9,2113.2 558.2,2114.1 563,2115.2 C567.8,2116.3 576.7,2118.4 582,2119.9 C587.3,2121.4 597.5,2124.9 603.1,2126.2 C608.7,2127.5 620.1,2129.3 624.3,2130 C628.5,2130.7 631.9,2131 634.8,2131.1 C637.7,2131.2 642.8,2130.5 646.3,2131.1 C649.8,2131.7 656.3,2134.3 661.1,2135.4 C665.9,2136.5 676.7,2138.8 682.3,2139.6 C687.9,2140.4 697.8,2141 703.4,2141.7 C709,2142.4 719,2144 724.6,2144.9 C730.2,2145.8 740.1,2147.4 745.7,2148.1 C751.3,2148.8 762,2149.6 766.8,2150.2 C771.6,2150.8 778.8,2152.1 781.6,2152.3 C784.4,2152.5 786.3,2152.3 788,2151.9 C789.7,2151.5 792.6,2149.6 794.3,2149.5 C796,2149.4 798.2,2150.3 800.7,2151.2 C803.2,2152.1 810.3,2155.3 813.4,2155.9 C816.5,2156.5 820.2,2155.3 823.9,2155.9 C827.6,2156.5 837.1,2159.8 840.8,2160.7 C844.5,2161.6 847.2,2162.3 851.4,2162.9 C855.6,2163.5 867,2164 872.6,2165 C878.2,2166 888.4,2168.9 893.7,2170.3 C899,2171.7 907.8,2174.8 912.7,2175.5 C917.6,2176.2 925.1,2174.8 930.7,2175.7 C936.3,2176.6 949.1,2180.8 954.8,2182.4 C960.5,2184 968.6,2186.4 973.6,2187.7 C978.6,2189 988,2191.3 992.3,2191.8 C996.6,2192.3 1001.1,2190.5 1005.7,2191.2 C1010.3,2191.9 1021.7,2195.3 1027.1,2197.1 C1032.5,2198.9 1041.6,2203.7 1045.9,2204.6 C1050.2,2205.5 1055.4,2203 1059.3,2203.8 C1063.2,2204.6 1072.3,2209.6 1075.3,2210.5 C1078.3,2211.4 1079.9,2209.8 1082,2210.5 C1084.1,2211.2 1088.7,2215.4 1091.4,2215.9 C1094.1,2216.4 1099.2,2214 1102.1,2214.5 C1105,2215 1109.8,2218.1 1112.8,2219.9 C1115.8,2221.7 1122,2227.2 1124.9,2227.9 C1127.8,2228.6 1131.6,2225.1 1134.3,2225.2 C1137,2225.3 1142.1,2227.3 1145,2228.7 C1147.9,2230.1 1152.8,2234.1 1155.7,2235.9 C1158.6,2237.7 1163.9,2240.1 1166.4,2242.1 C1168.9,2244.1 1172.4,2248.8 1174.4,2250.7 C1176.4,2252.6 1180.4,2255.3 1181.3,2256" fill="none" stroke="#d800d8" stroke-width="2.0" stroke-dasharray="6.8,2.1"/>
<line x1="190" y1="1925.1" x2="489" y2="1925.1" stroke="#fb0d0d" stroke-width="1.2" stroke-dasharray="2.6,2"/>
<line x1="204.7" y1="1951.5" x2="521.7" y2="1951.5" stroke="#222" stroke-width="1.2" stroke-dasharray="2.6,2"/>
<path d="M91.6,1789.6 C92.5,1791.4 95,1794.9 96.9,1800.2 C98.9,1805.5 101.2,1814.8 103.3,1821.3 C105.4,1827.8 107.7,1834.7 109.6,1839.3 C111.5,1843.9 112.1,1846 114.9,1848.8 C117.7,1851.6 121.8,1853.5 126.5,1856.2 C131.2,1858.9 137.1,1862.2 143.4,1864.7 C149.8,1867.2 157.6,1868.7 164.6,1871 C171.6,1873.3 178.7,1876.3 185.7,1878.4 C192.7,1880.5 196.2,1881.8 206.8,1883.7 C217.4,1885.6 235,1887.9 249.1,1890 C263.2,1892.1 277.3,1893.9 291.4,1896.4 C305.5,1898.9 322.3,1902.2 333.7,1904.8 C345.1,1907.4 352.1,1909.8 360,1912 C367.9,1914.2 374.1,1916.2 381.1,1918.3 C388.2,1920.4 391.7,1921.9 402.3,1924.7 C412.9,1927.5 430.5,1931.9 444.6,1935.2 C458.7,1938.5 472.7,1941.7 486.8,1944.7 C500.9,1947.7 515,1950.4 529.1,1953.2 C543.2,1956 557.3,1958.8 571.4,1961.6 C585.5,1964.4 602.3,1967.8 613.7,1970.1 C625.1,1972.3 628.6,1972.7 640,1975.1 C651.4,1977.5 668.2,1981.3 682.3,1984.6 C696.4,1987.9 710.5,1991.4 724.6,1995.1 C738.7,1998.8 752.7,2002.9 766.8,2006.8 C780.9,2010.7 795,2014.5 809.1,2018.4 C823.2,2022.3 837.3,2026.1 851.4,2030 C865.5,2033.9 882.3,2038.3 893.7,2041.6 C905.1,2044.9 911.1,2046.8 920,2049.6 C928.9,2052.4 937.9,2055.2 946.8,2058.3 C955.7,2061.4 964.7,2064.6 973.6,2068.3 C982.5,2072 991.4,2076.3 1000.3,2080.3 C1009.2,2084.3 1018.2,2088.2 1027.1,2092.4 C1036,2096.7 1045,2101.1 1053.9,2105.8 C1062.8,2110.5 1072.7,2115.8 1080.7,2120.5 C1088.7,2125.2 1095,2128.5 1102.1,2133.9 C1109.2,2139.3 1117.2,2146.9 1123.5,2152.7 C1129.8,2158.5 1135.1,2164.3 1139.6,2168.7 C1144.1,2173.1 1148.5,2177.2 1150.3,2178.9" fill="none" stroke="#111" stroke-width="1.2"/>
<path d="M91.6,1787.5 C92.5,1788.5 95,1789.6 96.9,1793.8 C98.9,1798 101.2,1807.1 103.3,1812.9 C105.4,1818.7 107.5,1825 109.6,1828.7 C111.7,1832.4 113.1,1833 115.9,1835.1 C118.7,1837.2 121.9,1839.3 126.5,1841.4 C131.1,1843.5 137.1,1845.6 143.4,1847.7 C149.8,1849.8 157.6,1852 164.6,1854.1 C171.6,1856.2 178.7,1858.6 185.7,1860.4 C192.7,1862.2 196.2,1863.1 206.8,1864.7 C217.4,1866.3 235,1867.8 249.1,1869.9 C263.2,1872 277.3,1874.5 291.4,1877.3 C305.5,1880.1 322.3,1884.2 333.7,1886.8 C345.1,1889.4 352.1,1890.7 360,1892.9 C367.9,1895.2 374.1,1898 381.1,1900.3 C388.2,1902.6 391.7,1903.9 402.3,1906.7 C412.9,1909.5 430.5,1914.3 444.6,1917.3 C458.7,1920.3 472.7,1921.9 486.8,1924.7 C500.9,1927.5 515,1931 529.1,1934.2 C543.2,1937.4 557.3,1940.5 571.4,1943.7 C585.5,1946.9 602.3,1950.8 613.7,1953.2 C625.1,1955.6 628.6,1955.5 640,1958.1 C651.4,1960.7 668.2,1965 682.3,1968.7 C696.4,1972.4 710.5,1976.4 724.6,1980.3 C738.7,1984.2 752.7,1988.1 766.8,1992 C780.9,1995.9 795,1999.5 809.1,2003.6 C823.2,2007.6 837.3,2012.1 851.4,2016.3 C865.5,2020.5 882.3,2025.5 893.7,2029 C905.1,2032.5 911.1,2034.3 920,2037 C928.9,2039.7 937.9,2042.4 946.8,2045.4 C955.7,2048.4 964.7,2051.4 973.6,2054.9 C982.5,2058.4 991.4,2062.4 1000.3,2066.4 C1009.2,2070.4 1018.2,2074.7 1027.1,2079 C1036,2083.3 1045,2087.7 1053.9,2092.4 C1062.8,2097.1 1072.7,2102.2 1080.7,2107.1 C1088.7,2112 1094.1,2116.1 1102.1,2121.9 C1110.1,2127.7 1122.2,2136.1 1128.9,2141.9 C1135.6,2147.7 1138.3,2151.6 1142.3,2156.7 C1146.3,2161.8 1149.4,2167.6 1153,2172.7 C1156.6,2177.8 1161.9,2185 1163.7,2187.5" fill="none" stroke="#fb0d0d" stroke-width="1.3"/>
<path d="M91.6,1795.9 C92,1796.2 93.5,1796.1 94.8,1798.1 C96.1,1800.1 99.4,1806.5 101.1,1810.7 C102.8,1814.9 105.8,1824.2 107.5,1829.8 C109.2,1835.4 111.8,1847.4 113.8,1853 C115.8,1858.6 120.2,1868.3 122.3,1872.1 C124.4,1875.9 127.7,1878.5 129.7,1881.6 C131.7,1884.7 135,1891.6 137.1,1895.3 C139.2,1899 143.2,1906.2 145.5,1909 C147.8,1911.8 151.5,1915.3 154,1916.4 C156.5,1917.5 161.2,1916.9 164.6,1917.1 C168,1917.3 176.6,1917.5 179.4,1918.1 C182.2,1918.7 183.7,1919.4 185.7,1921.7 C187.7,1924 191.9,1931.6 194.2,1935.5 C196.5,1939.4 200.3,1947.6 202.6,1951.3 C204.9,1955 208.3,1960.2 211.1,1963 C213.9,1965.8 220.1,1970.5 223.8,1972 C227.5,1973.5 234.4,1973.2 238.6,1974 C242.8,1974.8 251.3,1976.9 255.5,1977.8 C259.7,1978.7 265.5,1980.4 270.3,1980.9 C275.1,1981.4 284.9,1981.5 291.4,1981.6 C297.9,1981.7 311.8,1981.9 318.9,1982 C326,1982.1 337.2,1981.8 344.3,1982 C351.4,1982.2 366.3,1983.4 371.8,1983.7 C377.3,1984 382.7,1983.8 385.4,1984.5 C388.1,1985.2 389.7,1987.1 391.7,1989.1 C393.7,1991.1 397.9,1997.6 400.2,1999.7 C402.5,2001.8 406.3,2004.1 408.6,2005 C410.9,2005.9 414.3,2005 417.1,2006.5 C419.9,2008 426.4,2014 429.8,2016.6 C433.2,2019.2 439.4,2024.4 442.5,2026.1 C445.6,2027.8 449.9,2028.7 453,2029.7 C456.1,2030.7 461.2,2032.1 465.7,2033.5 C470.2,2034.9 482.3,2038.8 486.8,2039.9 C491.3,2041 495.3,2040.4 499.5,2041.4 C503.7,2042.4 514.1,2045.7 518.6,2047.3 C523.1,2048.9 529.7,2052 533.4,2053.6 C537.1,2055.2 542.1,2058.3 546,2059.5 C549.9,2060.7 558.2,2061.6 563,2062.7 C567.8,2063.8 576.7,2065.9 582,2067.4 C587.3,2068.9 597.5,2072.4 603.1,2073.7 C608.7,2075 620.1,2076.8 624.3,2077.5 C628.5,2078.2 631.9,2078.5 634.8,2078.6 C637.7,2078.7 642.8,2078 646.3,2078.6 C649.8,2079.2 656.3,2081.8 661.1,2082.9 C665.9,2084 676.7,2086.3 682.3,2087.1 C687.9,2087.9 697.8,2088.5 703.4,2089.2 C709,2089.9 719,2091.5 724.6,2092.4 C730.2,2093.3 740.1,2094.9 745.7,2095.6 C751.3,2096.3 762,2097.1 766.8,2097.7 C771.6,2098.3 778.8,2099.6 781.6,2099.8 C784.4,2100 786.3,2099.8 788,2099.4 C789.7,2099 792.6,2097.1 794.3,2097 C796,2096.9 798.2,2097.8 800.7,2098.7 C803.2,2099.6 810.3,2102.8 813.4,2103.4 C816.5,2104 820.2,2102.8 823.9,2103.4 C827.6,2104 837.1,2107.3 840.8,2108.2 C844.5,2109.1 847.2,2109.8 851.4,2110.4 C855.6,2111 867,2111.5 872.6,2112.5 C878.2,2113.5 888.4,2116.4 893.7,2117.8 C899,2119.2 907.8,2122.3 912.7,2123 C917.6,2123.7 925.1,2122.3 930.7,2123.2 C936.3,2124.1 949.1,2128.3 954.8,2129.9 C960.5,2131.5 968.6,2133.9 973.6,2135.2 C978.6,2136.5 988,2138.8 992.3,2139.3 C996.6,2139.8 1001.1,2138 1005.7,2138.7 C1010.3,2139.4 1021.7,2142.8 1027.1,2144.6 C1032.5,2146.4 1041.6,2151.2 1045.9,2152.1 C1050.2,2153 1055.4,2150.5 1059.3,2151.3 C1063.2,2152.1 1072.3,2157.1 1075.3,2158 C1078.3,2158.9 1079.9,2157.3 1082,2158 C1084.1,2158.7 1088.7,2162.9 1091.4,2163.4 C1094.1,2163.9 1099.2,2161.5 1102.1,2162 C1105,2162.5 1109.8,2165.6 1112.8,2167.4 C1115.8,2169.2 1122,2174.7 1124.9,2175.4 C1127.8,2176.1 1131.6,2172.6 1134.3,2172.7 C1137,2172.8 1142.1,2174.8 1145,2176.2 C1147.9,2177.6 1152.8,2181.6 1155.7,2183.4 C1158.6,2185.2 1163.9,2187.6 1166.4,2189.6 C1168.9,2191.6 1171.7,2195.8 1174.4,2198.2 C1177.1,2200.6 1182.9,2205.6 1186.5,2207.6 C1190.1,2209.6 1196.7,2211.2 1201.2,2212.9 C1205.7,2214.6 1214.6,2218.3 1220,2220.1 C1225.4,2221.9 1236.1,2225.5 1241.4,2226.3 C1246.7,2227.1 1255.7,2225.3 1260.1,2225.8 C1264.5,2226.3 1272.4,2229.3 1274.3,2229.8 L1274.3,2263.7" fill="none" stroke="#000" stroke-width="2.15" stroke-linejoin="round"/>
<line x1="91.6" y1="1701.2" x2="91.6" y2="2264.9" stroke="#000" stroke-width="2.4"/>
<line x1="90.4" y1="2263.7" x2="1275.6" y2="2263.7" stroke="#000" stroke-width="2.4"/>
<line x1="91.6" y1="2223.6" x2="97.6" y2="2223.6" stroke="#000" stroke-width="1.5"/>
<line x1="91.6" y1="2183.5" x2="102.1" y2="2183.5" stroke="#000" stroke-width="2.7" stroke-linecap="round"/>
<line x1="91.6" y1="2143.4" x2="97.6" y2="2143.4" stroke="#000" stroke-width="1.5"/>
<line x1="91.6" y1="2103.4" x2="102.1" y2="2103.4" stroke="#000" stroke-width="2.7" stroke-linecap="round"/>
<line x1="91.6" y1="2063.3" x2="97.6" y2="2063.3" stroke="#000" stroke-width="1.5"/>
<line x1="91.6" y1="2023.2" x2="102.1" y2="2023.2" stroke="#000" stroke-width="2.7" stroke-linecap="round"/>
<line x1="91.6" y1="1983.1" x2="97.6" y2="1983.1" stroke="#000" stroke-width="1.5"/>
<line x1="91.6" y1="1943" x2="102.1" y2="1943" stroke="#000" stroke-width="2.7" stroke-linecap="round"/>
<line x1="91.6" y1="1902.9" x2="97.6" y2="1902.9" stroke="#000" stroke-width="1.5"/>
<line x1="91.6" y1="1862.8" x2="102.1" y2="1862.8" stroke="#000" stroke-width="2.7" stroke-linecap="round"/>
<line x1="91.6" y1="1822.8" x2="97.6" y2="1822.8" stroke="#000" stroke-width="1.5"/>
<line x1="91.6" y1="1782.7" x2="102.1" y2="1782.7" stroke="#000" stroke-width="2.7" stroke-linecap="round"/>
<line x1="91.6" y1="1742.6" x2="97.6" y2="1742.6" stroke="#000" stroke-width="1.5"/>
<line x1="91.6" y1="1702.5" x2="102.1" y2="1702.5" stroke="#000" stroke-width="2.7" stroke-linecap="round"/>
<line x1="121.2" y1="2263.7" x2="121.2" y2="2257.7" stroke="#000" stroke-width="1.5"/>
<line x1="150.7" y1="2263.7" x2="150.7" y2="2257.7" stroke="#000" stroke-width="1.5"/>
<line x1="180.3" y1="2263.7" x2="180.3" y2="2257.7" stroke="#000" stroke-width="1.5"/>
<line x1="209.9" y1="2263.7" x2="209.9" y2="2257.7" stroke="#000" stroke-width="1.5"/>
<line x1="239.4" y1="2263.7" x2="239.4" y2="2253.2" stroke="#000" stroke-width="2.7" stroke-linecap="round"/>
<line x1="269" y1="2263.7" x2="269" y2="2257.7" stroke="#000" stroke-width="1.5"/>
<line x1="298.6" y1="2263.7" x2="298.6" y2="2257.7" stroke="#000" stroke-width="1.5"/>
<line x1="328.1" y1="2263.7" x2="328.1" y2="2257.7" stroke="#000" stroke-width="1.5"/>
<line x1="357.7" y1="2263.7" x2="357.7" y2="2257.7" stroke="#000" stroke-width="1.5"/>
<line x1="387.3" y1="2263.7" x2="387.3" y2="2253.2" stroke="#000" stroke-width="2.7" stroke-linecap="round"/>
<line x1="416.8" y1="2263.7" x2="416.8" y2="2257.7" stroke="#000" stroke-width="1.5"/>
<line x1="446.4" y1="2263.7" x2="446.4" y2="2257.7" stroke="#000" stroke-width="1.5"/>
<line x1="476" y1="2263.7" x2="476" y2="2257.7" stroke="#000" stroke-width="1.5"/>
<line x1="505.6" y1="2263.7" x2="505.6" y2="2257.7" stroke="#000" stroke-width="1.5"/>
<line x1="535.1" y1="2263.7" x2="535.1" y2="2253.2" stroke="#000" stroke-width="2.7" stroke-linecap="round"/>
<line x1="564.7" y1="2263.7" x2="564.7" y2="2257.7" stroke="#000" stroke-width="1.5"/>
<line x1="594.3" y1="2263.7" x2="594.3" y2="2257.7" stroke="#000" stroke-width="1.5"/>
<line x1="623.8" y1="2263.7" x2="623.8" y2="2257.7" stroke="#000" stroke-width="1.5"/>
<line x1="653.4" y1="2263.7" x2="653.4" y2="2257.7" stroke="#000" stroke-width="1.5"/>
<line x1="683" y1="2263.7" x2="683" y2="2253.2" stroke="#000" stroke-width="2.7" stroke-linecap="round"/>
<line x1="712.5" y1="2263.7" x2="712.5" y2="2257.7" stroke="#000" stroke-width="1.5"/>
<line x1="742.1" y1="2263.7" x2="742.1" y2="2257.7" stroke="#000" stroke-width="1.5"/>
<line x1="771.7" y1="2263.7" x2="771.7" y2="2257.7" stroke="#000" stroke-width="1.5"/>
<line x1="801.2" y1="2263.7" x2="801.2" y2="2257.7" stroke="#000" stroke-width="1.5"/>
<line x1="830.8" y1="2263.7" x2="830.8" y2="2253.2" stroke="#000" stroke-width="2.7" stroke-linecap="round"/>
<line x1="860.4" y1="2263.7" x2="860.4" y2="2257.7" stroke="#000" stroke-width="1.5"/>
<line x1="889.9" y1="2263.7" x2="889.9" y2="2257.7" stroke="#000" stroke-width="1.5"/>
<line x1="919.5" y1="2263.7" x2="919.5" y2="2257.7" stroke="#000" stroke-width="1.5"/>
<line x1="949.1" y1="2263.7" x2="949.1" y2="2257.7" stroke="#000" stroke-width="1.5"/>
<line x1="978.6" y1="2263.7" x2="978.6" y2="2253.2" stroke="#000" stroke-width="2.7" stroke-linecap="round"/>
<line x1="1008.2" y1="2263.7" x2="1008.2" y2="2257.7" stroke="#000" stroke-width="1.5"/>
<line x1="1037.8" y1="2263.7" x2="1037.8" y2="2257.7" stroke="#000" stroke-width="1.5"/>
<line x1="1067.3" y1="2263.7" x2="1067.3" y2="2257.7" stroke="#000" stroke-width="1.5"/>
<line x1="1096.9" y1="2263.7" x2="1096.9" y2="2257.7" stroke="#000" stroke-width="1.5"/>
<line x1="1126.5" y1="2263.7" x2="1126.5" y2="2253.2" stroke="#000" stroke-width="2.7" stroke-linecap="round"/>
<line x1="1156" y1="2263.7" x2="1156" y2="2257.7" stroke="#000" stroke-width="1.5"/>
<line x1="1185.6" y1="2263.7" x2="1185.6" y2="2257.7" stroke="#000" stroke-width="1.5"/>
<line x1="1215.2" y1="2263.7" x2="1215.2" y2="2257.7" stroke="#000" stroke-width="1.5"/>
<line x1="1244.8" y1="2263.7" x2="1244.8" y2="2257.7" stroke="#000" stroke-width="1.5"/>
<line x1="1274.3" y1="2263.7" x2="1274.3" y2="2253.2" stroke="#000" stroke-width="2.7" stroke-linecap="round"/>
<text transform="translate(82.2,2263.9)" text-anchor="end" fill="#000" style="font-size:23.5px;">0.8</text>
<text transform="translate(80.6,2191.4)" text-anchor="end" fill="#000" style="font-size:23.5px;">1.0</text>
<text transform="translate(80.6,2111.2)" text-anchor="end" fill="#000" style="font-size:23.5px;">1.2</text>
<text transform="translate(80.6,2031)" text-anchor="end" fill="#000" style="font-size:23.5px;">1.4</text>
<text transform="translate(80.6,1950.9)" text-anchor="end" fill="#000" style="font-size:23.5px;">1.6</text>
<text transform="translate(80.6,1870.7)" text-anchor="end" fill="#000" style="font-size:23.5px;">1.8</text>
<text transform="translate(80.6,1790.5)" text-anchor="end" fill="#000" style="font-size:23.5px;">2.0</text>
<text transform="translate(80.6,1710.4)" text-anchor="end" fill="#000" style="font-size:23.5px;">2.2</text>
<text transform="translate(91.6,2288.5) scale(0.900,1)" text-anchor="middle" fill="#000" style="font-size:23.5px;">0.0</text>
<text transform="translate(239.4,2288.5) scale(0.900,1)" text-anchor="middle" fill="#000" style="font-size:23.5px;">1.0</text>
<text transform="translate(387.3,2288.5) scale(0.900,1)" text-anchor="middle" fill="#000" style="font-size:23.5px;">2.0</text>
<text transform="translate(535.1,2288.5) scale(0.900,1)" text-anchor="middle" fill="#000" style="font-size:23.5px;">3.0</text>
<text transform="translate(683,2288.5) scale(0.900,1)" text-anchor="middle" fill="#000" style="font-size:23.5px;">4.0</text>
<text transform="translate(830.8,2288.5) scale(0.900,1)" text-anchor="middle" fill="#000" style="font-size:23.5px;">5.0</text>
<text transform="translate(978.6,2288.5) scale(0.900,1)" text-anchor="middle" fill="#000" style="font-size:23.5px;">6.0</text>
<text transform="translate(1126.5,2288.5) scale(0.900,1)" text-anchor="middle" fill="#000" style="font-size:23.5px;">7.0</text>
<text transform="translate(1274.3,2288.5) scale(0.900,1)" text-anchor="middle" fill="#000" style="font-size:23.5px;">8.0</text>
<text transform="translate(685,2330.5) scale(0.820,1)" text-anchor="middle" fill="#000" style="font-size:34px;">Distance from headwall (km)</text>
<text transform="translate(27.8,1958) rotate(-90) scale(0.820,1)" text-anchor="middle" fill="#000" style="font-size:34px;">Elevation (km a.s.l)</text>
<text transform="translate(190,1920.7)" text-anchor="start" fill="#fb0d0d" style="font-size:20px;font-style:italic;">ELA: 1645 m</text>
<text transform="translate(201.6,1942.2)" text-anchor="start" fill="#fb0d0d" style="font-size:20px;font-style:italic;">AAR: ~0.6</text>
<text transform="translate(326.3,1948.2)" text-anchor="start" fill="#000" style="font-size:20px;font-style:italic;">ELA: 1579 m</text>
<text transform="translate(338.4,1969.3)" text-anchor="start" fill="#000" style="font-size:20px;font-style:italic;">AAR: ~0.7</text>
<text transform="translate(629.6,1946.8)" text-anchor="start" fill="#fb0d0d" style="font-size:21.5px;font-style:italic;">a)</text>
<text transform="translate(633.8,1998.6)" text-anchor="start" fill="#000" style="font-size:21.5px;font-style:italic;">b)</text>
<text transform="translate(608.4,2069)" text-anchor="start" fill="#000" style="font-size:25.5px;font-style:italic;">bed</text>
<text transform="translate(173,2058)" text-anchor="start" fill="#d800d8" style="font-size:25.5px;font-style:italic;">GIA-related uplift</text>
<text transform="translate(213.9,2085)" text-anchor="start" fill="#d800d8" style="font-size:25.5px;font-style:italic;">+ 131 m</text>
<text transform="translate(140.8,2167.5)" text-anchor="start" fill="#fb0d0d" style="font-size:25.5px;font-style:italic;">a) Max. glacier thickness: 291 m</text>
<text transform="translate(140.8,2207.4)" text-anchor="start" fill="#000" style="font-size:25.5px;font-style:italic;">b) Max. glacier thickness: 261 m</text>
<line x1="228.6" y1="2021" x2="228.6" y2="1990.8" stroke="#d800d8" stroke-width="1.9" stroke-linecap="round"/>
<path d="M228.6,1977.8 L222.1,1994.1 L228.6,1992.2 L235.1,1994.1 Z" fill="#d800d8"/>
<line x1="325.2" y1="2030.6" x2="325.2" y2="1999.6" stroke="#d800d8" stroke-width="1.9" stroke-linecap="round"/>
<path d="M325.2,1986.6 L318.7,2002.9 L325.2,2001 L331.7,2002.9 Z" fill="#d800d8"/>
<line x1="751" y1="2143.1" x2="751" y2="2113.8" stroke="#d800d8" stroke-width="1.9" stroke-linecap="round"/>
<path d="M751,2100.8 L744.5,2117.1 L751,2115.2 L757.5,2117.1 Z" fill="#d800d8"/>
<line x1="1102.6" y1="2211.6" x2="1102.6" y2="2181.7" stroke="#d800d8" stroke-width="1.9" stroke-linecap="round"/>
<path d="M1102.6,2168.7 L1096.1,2185 L1102.6,2183.1 L1109.1,2185 Z" fill="#d800d8"/>
<text transform="translate(4.2,1602.6) scale(0.950,1)" text-anchor="start" fill="#000" style="font-size:44.5px;font-weight:bold;">C</text>
<text transform="translate(1390,1597) scale(0.889,1)" text-anchor="end" fill="#000" style="font-size:33.8px;font-weight:bold;" stroke="#000" stroke-width="0.45">RCO-out glacier advance (~18 ka?)</text>
<line x1="705" y1="1607" x2="705" y2="1946.5" stroke="#000" stroke-width="2.6"/>
<rect x="242.2" y="1593.1" width="413.6" height="203" fill="#fff"/>
<line x1="276.7" y1="1593.1" x2="276.7" y2="1796.1" stroke="#e6e6e6" stroke-width="1"/>
<line x1="311.1" y1="1593.1" x2="311.1" y2="1796.1" stroke="#e6e6e6" stroke-width="1"/>
<line x1="345.6" y1="1593.1" x2="345.6" y2="1796.1" stroke="#e6e6e6" stroke-width="1"/>
<line x1="380.1" y1="1593.1" x2="380.1" y2="1796.1" stroke="#e6e6e6" stroke-width="1"/>
<line x1="414.5" y1="1593.1" x2="414.5" y2="1796.1" stroke="#e6e6e6" stroke-width="1"/>
<line x1="449" y1="1593.1" x2="449" y2="1796.1" stroke="#e6e6e6" stroke-width="1"/>
<line x1="483.5" y1="1593.1" x2="483.5" y2="1796.1" stroke="#e6e6e6" stroke-width="1"/>
<line x1="517.9" y1="1593.1" x2="517.9" y2="1796.1" stroke="#e6e6e6" stroke-width="1"/>
<line x1="552.4" y1="1593.1" x2="552.4" y2="1796.1" stroke="#e6e6e6" stroke-width="1"/>
<line x1="586.8" y1="1593.1" x2="586.8" y2="1796.1" stroke="#e6e6e6" stroke-width="1"/>
<line x1="621.3" y1="1593.1" x2="621.3" y2="1796.1" stroke="#e6e6e6" stroke-width="1"/>
<line x1="242.2" y1="1633.8" x2="655.8" y2="1633.8" stroke="#e6e6e6" stroke-width="1"/>
<line x1="242.2" y1="1674.5" x2="655.8" y2="1674.5" stroke="#e6e6e6" stroke-width="1"/>
<line x1="242.2" y1="1715.1" x2="655.8" y2="1715.1" stroke="#e6e6e6" stroke-width="1"/>
<line x1="242.2" y1="1755.8" x2="655.8" y2="1755.8" stroke="#e6e6e6" stroke-width="1"/>
<path d="M242.2,1598.6 L252.5,1599.6 L262.9,1600.8 L273.2,1602.2 L283.6,1603.7 L293.9,1605.4 L304.2,1607.2 L314.6,1609.3 L324.9,1611.4 L335.3,1613.8 L345.6,1616.3 L355.9,1619 L366.3,1621.9 L376.6,1624.9 L387,1628.1 L397.3,1631.4 L407.6,1635 L418,1638.7 L428.3,1642.5 L438.7,1646.5 L449,1650.7 L459.3,1655.1 L469.7,1659.6 L480,1664.3 L490.3,1669.1 L500.7,1674.2 L511,1679.3 L521.4,1684.7 L531.7,1690.2 L542,1695.9 L552.4,1701.8 L562.7,1707.8 L573.1,1714 L583.4,1720.3 L593.7,1726.8 L604.1,1733.5 L614.4,1740.4 L624.8,1747.4 L635.1,1754.6 L645.4,1761.9 L655.8,1769.4" fill="none" stroke="#1f3cff" stroke-width="1.6"/>
<rect x="242.2" y="1593.1" width="413.6" height="203" fill="none" stroke="#000" stroke-width="1.8"/>
<line x1="311.1" y1="1796.1" x2="311.1" y2="1789.1" stroke="#000" stroke-width="1.6"/>
<line x1="380.1" y1="1796.1" x2="380.1" y2="1789.1" stroke="#000" stroke-width="1.6"/>
<line x1="449" y1="1796.1" x2="449" y2="1789.1" stroke="#000" stroke-width="1.6"/>
<line x1="517.9" y1="1796.1" x2="517.9" y2="1789.1" stroke="#000" stroke-width="1.6"/>
<line x1="586.8" y1="1796.1" x2="586.8" y2="1789.1" stroke="#000" stroke-width="1.6"/>
<line x1="242.2" y1="1633.8" x2="249.2" y2="1633.8" stroke="#000" stroke-width="1.6"/>
<line x1="242.2" y1="1674.5" x2="249.2" y2="1674.5" stroke="#000" stroke-width="1.6"/>
<line x1="242.2" y1="1715.1" x2="249.2" y2="1715.1" stroke="#000" stroke-width="1.6"/>
<line x1="242.2" y1="1755.8" x2="249.2" y2="1755.8" stroke="#000" stroke-width="1.6"/>
<text transform="translate(242.2,1821.1) scale(1.080,1)" text-anchor="middle" fill="#000" style="font-size:19.3px;">0.59</text>
<text transform="translate(311.1,1821.1) scale(1.080,1)" text-anchor="middle" fill="#000" style="font-size:19.3px;">0.61</text>
<text transform="translate(380.1,1821.1) scale(1.080,1)" text-anchor="middle" fill="#000" style="font-size:19.3px;">0.63</text>
<text transform="translate(449,1821.1) scale(1.080,1)" text-anchor="middle" fill="#000" style="font-size:19.3px;">0.65</text>
<text transform="translate(517.9,1821.1) scale(1.080,1)" text-anchor="middle" fill="#000" style="font-size:19.3px;">0.67</text>
<text transform="translate(586.8,1821.1) scale(1.080,1)" text-anchor="middle" fill="#000" style="font-size:19.3px;">0.69</text>
<text transform="translate(655.8,1821.1) scale(1.080,1)" text-anchor="middle" fill="#000" style="font-size:19.3px;">0.71</text>
<text transform="translate(237,1600.9) scale(1.080,1)" text-anchor="end" fill="#000" style="font-size:19.3px;">1.65</text>
<text transform="translate(237,1641.6) scale(1.080,1)" text-anchor="end" fill="#000" style="font-size:19.3px;">1.63</text>
<text transform="translate(237,1682.3) scale(1.080,1)" text-anchor="end" fill="#000" style="font-size:19.3px;">1.61</text>
<text transform="translate(237,1722.9) scale(1.080,1)" text-anchor="end" fill="#000" style="font-size:19.3px;">1.59</text>
<text transform="translate(237,1763.6) scale(1.080,1)" text-anchor="end" fill="#000" style="font-size:19.3px;">1.57</text>
<text transform="translate(237,1800.9) scale(1.080,1)" text-anchor="end" fill="#000" style="font-size:19.3px;">1.55</text>
<text transform="translate(176.6,1698.4) rotate(-90)" text-anchor="middle" fill="#000" style="font-size:30px;">ELA (km)</text>
<text transform="translate(449.2,1856)" text-anchor="middle" fill="#000" style="font-size:30px;">AAR</text>
<text transform="translate(285.1,1743.5)" text-anchor="start" fill="#000" style="font-size:30.4px;font-style:italic;">R<tspan dy="-0.39em">2</tspan><tspan dy="0.39em"> = 0.9598</tspan></text>
<text transform="translate(421.2,1629)" text-anchor="start" fill="#000" style="font-size:22.9px;font-style:italic;">y = -4546.2x<tspan dy="-0.39em">2</tspan><tspan dy="0.39em"> + 5210x</tspan></text>
<text transform="translate(494.8,1654.8)" text-anchor="start" fill="#000" style="font-size:22.9px;font-style:italic;">+ 155.94</text>
<line x1="911.4" y1="1672" x2="911.4" y2="1931.9" stroke="#e6e6e6" stroke-width="1"/>
<line x1="1006.5" y1="1672" x2="1006.5" y2="1931.9" stroke="#e6e6e6" stroke-width="1"/>
<line x1="1101.7" y1="1672" x2="1101.7" y2="1931.9" stroke="#e6e6e6" stroke-width="1"/>
<line x1="1196.9" y1="1672" x2="1196.9" y2="1931.9" stroke="#e6e6e6" stroke-width="1"/>
<line x1="1292.1" y1="1672" x2="1292.1" y2="1931.9" stroke="#e6e6e6" stroke-width="1"/>
<line x1="816.2" y1="1866.8" x2="1387.2" y2="1866.8" stroke="#e6e6e6" stroke-width="1"/>
<line x1="816.2" y1="1801.7" x2="1387.2" y2="1801.7" stroke="#e6e6e6" stroke-width="1"/>
<line x1="816.2" y1="1736.6" x2="1387.2" y2="1736.6" stroke="#e6e6e6" stroke-width="1"/>
<path d="M816.2,1931.9 C819.9,1929.2 832.2,1920.2 838.2,1915.5 C844.2,1910.8 847.6,1907.6 852.3,1903.5 C857,1899.4 861.7,1895 866.4,1890.8 C871.1,1886.6 875.8,1882.3 880.5,1878.1 C885.2,1873.9 889.6,1869.7 894.6,1865.4 C899.6,1861.1 906.1,1855.9 910.8,1852.1 C915.5,1848.3 918.5,1845.9 922.8,1842.6 C927.1,1839.3 932.1,1835.6 936.8,1832.3 C941.5,1829 946.2,1825.7 950.9,1822.5 C955.6,1819.3 960.3,1816.4 965,1813.3 C969.7,1810.2 974.4,1807.2 979.1,1804.1 C983.8,1801 988.4,1797.7 993,1794.6 C997.6,1791.5 1001.5,1788.6 1006.9,1785.6 C1012.3,1782.6 1018.6,1779.6 1025.2,1776.8 C1031.8,1774 1039.4,1771.1 1046.4,1768.7 C1053.5,1766.3 1060.5,1764.1 1067.5,1762.3 C1074.5,1760.5 1083,1759.1 1088.7,1758.1 C1094.5,1757 1097.3,1756.6 1102,1756 C1106.7,1755.4 1110.8,1755.1 1116.8,1754.6 C1122.8,1754.1 1131,1753.6 1138,1753.2 C1145,1752.8 1150.4,1752.5 1159.1,1752.2 C1167.8,1751.9 1178.2,1751.7 1190,1751.6 C1201.8,1751.5 1223.3,1751.5 1230,1751.5 L1387.2,1751.5" fill="none" stroke="#000" stroke-width="1.3"/>
<path d="M816.2,1931.9 C817.5,1929.1 821.6,1920.2 824.1,1914.8 C826.6,1909.4 828.8,1904.5 831.1,1899.3 C833.5,1894.1 835.9,1889.2 838.2,1883.8 C840.6,1878.4 842.9,1872.4 845.2,1866.8 C847.6,1861.2 849.9,1855.4 852.3,1849.9 C854.6,1844.4 856.9,1839.1 859.3,1833.7 C861.6,1828.3 864,1823 866.4,1817.5 C868.8,1812 871,1806 873.4,1800.6 C875.8,1795.2 878.1,1789.9 880.5,1785.1 C882.9,1780.3 885.1,1775.9 887.5,1771.7 C889.9,1767.5 892.2,1763.5 894.6,1759.7 C897,1756 898.9,1753 901.6,1749.2 C904.3,1745.5 907.4,1741.5 910.6,1737.2 C913.9,1732.9 917.6,1727.6 921.1,1723.4 C924.6,1719.2 928.2,1715.2 931.7,1711.8 C935.2,1708.4 938.8,1705.7 942.3,1703.3 C945.8,1700.9 949.4,1699.2 952.9,1697.6 C956.4,1696 959.9,1694.8 963.4,1693.8 C966.9,1692.8 969.6,1692.4 974,1691.9 C978.4,1691.4 984.5,1691.1 990,1690.7 C995.5,1690.3 999.9,1690 1006.9,1689.7 C1013.9,1689.4 1023.4,1689.2 1032.3,1689 C1041.1,1688.8 1055.4,1688.8 1060,1688.8 L1387.2,1688.8" fill="none" stroke="#fb0d0d" stroke-width="1.3"/>
<rect x="816.2" y="1672" width="571" height="259.9" fill="none" stroke="#222" stroke-width="1.5"/>
<line x1="911.4" y1="1931.9" x2="911.4" y2="1923.9" stroke="#000" stroke-width="1.5"/>
<line x1="1006.5" y1="1931.9" x2="1006.5" y2="1923.9" stroke="#000" stroke-width="1.5"/>
<line x1="1101.7" y1="1931.9" x2="1101.7" y2="1923.9" stroke="#000" stroke-width="1.5"/>
<line x1="1196.9" y1="1931.9" x2="1196.9" y2="1923.9" stroke="#000" stroke-width="1.5"/>
<line x1="1292.1" y1="1931.9" x2="1292.1" y2="1923.9" stroke="#000" stroke-width="1.5"/>
<line x1="835.2" y1="1931.9" x2="835.2" y2="1927.9" stroke="#000" stroke-width="1"/>
<line x1="854.3" y1="1931.9" x2="854.3" y2="1927.9" stroke="#000" stroke-width="1"/>
<line x1="873.3" y1="1931.9" x2="873.3" y2="1927.9" stroke="#000" stroke-width="1"/>
<line x1="892.3" y1="1931.9" x2="892.3" y2="1927.9" stroke="#000" stroke-width="1"/>
<line x1="930.4" y1="1931.9" x2="930.4" y2="1927.9" stroke="#000" stroke-width="1"/>
<line x1="949.4" y1="1931.9" x2="949.4" y2="1927.9" stroke="#000" stroke-width="1"/>
<line x1="968.5" y1="1931.9" x2="968.5" y2="1927.9" stroke="#000" stroke-width="1"/>
<line x1="987.5" y1="1931.9" x2="987.5" y2="1927.9" stroke="#000" stroke-width="1"/>
<line x1="1025.6" y1="1931.9" x2="1025.6" y2="1927.9" stroke="#000" stroke-width="1"/>
<line x1="1044.6" y1="1931.9" x2="1044.6" y2="1927.9" stroke="#000" stroke-width="1"/>
<line x1="1063.6" y1="1931.9" x2="1063.6" y2="1927.9" stroke="#000" stroke-width="1"/>
<line x1="1082.7" y1="1931.9" x2="1082.7" y2="1927.9" stroke="#000" stroke-width="1"/>
<line x1="1120.7" y1="1931.9" x2="1120.7" y2="1927.9" stroke="#000" stroke-width="1"/>
<line x1="1139.8" y1="1931.9" x2="1139.8" y2="1927.9" stroke="#000" stroke-width="1"/>
<line x1="1158.8" y1="1931.9" x2="1158.8" y2="1927.9" stroke="#000" stroke-width="1"/>
<line x1="1177.8" y1="1931.9" x2="1177.8" y2="1927.9" stroke="#000" stroke-width="1"/>
<line x1="1215.9" y1="1931.9" x2="1215.9" y2="1927.9" stroke="#000" stroke-width="1"/>
<line x1="1234.9" y1="1931.9" x2="1234.9" y2="1927.9" stroke="#000" stroke-width="1"/>
<line x1="1254" y1="1931.9" x2="1254" y2="1927.9" stroke="#000" stroke-width="1"/>
<line x1="1273" y1="1931.9" x2="1273" y2="1927.9" stroke="#000" stroke-width="1"/>
<line x1="1311.1" y1="1931.9" x2="1311.1" y2="1927.9" stroke="#000" stroke-width="1"/>
<line x1="1330.1" y1="1931.9" x2="1330.1" y2="1927.9" stroke="#000" stroke-width="1"/>
<line x1="1349.2" y1="1931.9" x2="1349.2" y2="1927.9" stroke="#000" stroke-width="1"/>
<line x1="1368.2" y1="1931.9" x2="1368.2" y2="1927.9" stroke="#000" stroke-width="1"/>
<line x1="816.2" y1="1899.4" x2="824.2" y2="1899.4" stroke="#000" stroke-width="1.5"/>
<line x1="816.2" y1="1866.8" x2="824.2" y2="1866.8" stroke="#000" stroke-width="1.5"/>
<line x1="816.2" y1="1834.2" x2="824.2" y2="1834.2" stroke="#000" stroke-width="1.5"/>
<line x1="816.2" y1="1801.7" x2="824.2" y2="1801.7" stroke="#000" stroke-width="1.5"/>
<line x1="816.2" y1="1769.2" x2="824.2" y2="1769.2" stroke="#000" stroke-width="1.5"/>
<line x1="816.2" y1="1736.6" x2="824.2" y2="1736.6" stroke="#000" stroke-width="1.5"/>
<line x1="816.2" y1="1704.1" x2="824.2" y2="1704.1" stroke="#000" stroke-width="1.5"/>
<line x1="816.2" y1="1915.6" x2="821.2" y2="1915.6" stroke="#000" stroke-width="1"/>
<line x1="816.2" y1="1883.1" x2="821.2" y2="1883.1" stroke="#000" stroke-width="1"/>
<line x1="816.2" y1="1850.5" x2="821.2" y2="1850.5" stroke="#000" stroke-width="1"/>
<line x1="816.2" y1="1818" x2="821.2" y2="1818" stroke="#000" stroke-width="1"/>
<line x1="816.2" y1="1785.4" x2="821.2" y2="1785.4" stroke="#000" stroke-width="1"/>
<line x1="816.2" y1="1752.9" x2="821.2" y2="1752.9" stroke="#000" stroke-width="1"/>
<line x1="816.2" y1="1720.3" x2="821.2" y2="1720.3" stroke="#000" stroke-width="1"/>
<line x1="816.2" y1="1687.8" x2="821.2" y2="1687.8" stroke="#000" stroke-width="1"/>
<text transform="translate(911.4,1956.6) scale(0.900,1)" text-anchor="middle" fill="#000" style="font-size:24.6px;">100</text>
<text transform="translate(1006.5,1956.6) scale(0.900,1)" text-anchor="middle" fill="#000" style="font-size:24.6px;">200</text>
<text transform="translate(1101.7,1956.6) scale(0.900,1)" text-anchor="middle" fill="#000" style="font-size:24.6px;">300</text>
<text transform="translate(1196.9,1956.6) scale(0.900,1)" text-anchor="middle" fill="#000" style="font-size:24.6px;">400</text>
<text transform="translate(1292.1,1956.6) scale(0.900,1)" text-anchor="middle" fill="#000" style="font-size:24.6px;">500</text>
<text transform="translate(1387.2,1956.6) scale(0.900,1)" text-anchor="middle" fill="#000" style="font-size:24.6px;">600</text>
<text transform="translate(810.7,1908.1) scale(0.900,1)" text-anchor="end" fill="#000" style="font-size:24.6px;">0.2</text>
<text transform="translate(810.7,1843) scale(0.900,1)" text-anchor="end" fill="#000" style="font-size:24.6px;">0.6</text>
<text transform="translate(810.7,1777.9) scale(0.900,1)" text-anchor="end" fill="#000" style="font-size:24.6px;">1.0</text>
<text transform="translate(810.7,1712.8) scale(0.900,1)" text-anchor="end" fill="#000" style="font-size:24.6px;">1.4</text>
<text transform="translate(814.8,1951) scale(0.900,1)" text-anchor="end" fill="#000" style="font-size:24.6px;">0.0</text>
<text transform="translate(760.9,1803) rotate(-90) scale(0.820,1)" text-anchor="middle" fill="#000" style="font-size:33.4px;">Ice volume (km³)</text>
<text transform="translate(1107.2,1996.1) scale(0.820,1)" text-anchor="middle" fill="#000" style="font-size:33.4px;">Simulation time (yr)</text>
<text transform="translate(870.5,1759)" text-anchor="start" fill="#fb0d0d" style="font-size:23px;font-style:italic;">a)</text>
<text transform="translate(948,1841.4)" text-anchor="start" fill="#000" style="font-size:23px;font-style:italic;">b)</text>
<text transform="translate(988,1717.5)" text-anchor="start" fill="#fb0d0d" style="font-size:23.7px;font-style:italic;">Max. volume: 1.50 km<tspan dy="-0.36em">3</tspan></text>
<text transform="translate(1120,1781.8)" text-anchor="start" fill="#000" style="font-size:23.6px;font-style:italic;">Max. volume: 1.11 km<tspan dy="-0.36em">3</tspan></text>
</svg></body></html>
